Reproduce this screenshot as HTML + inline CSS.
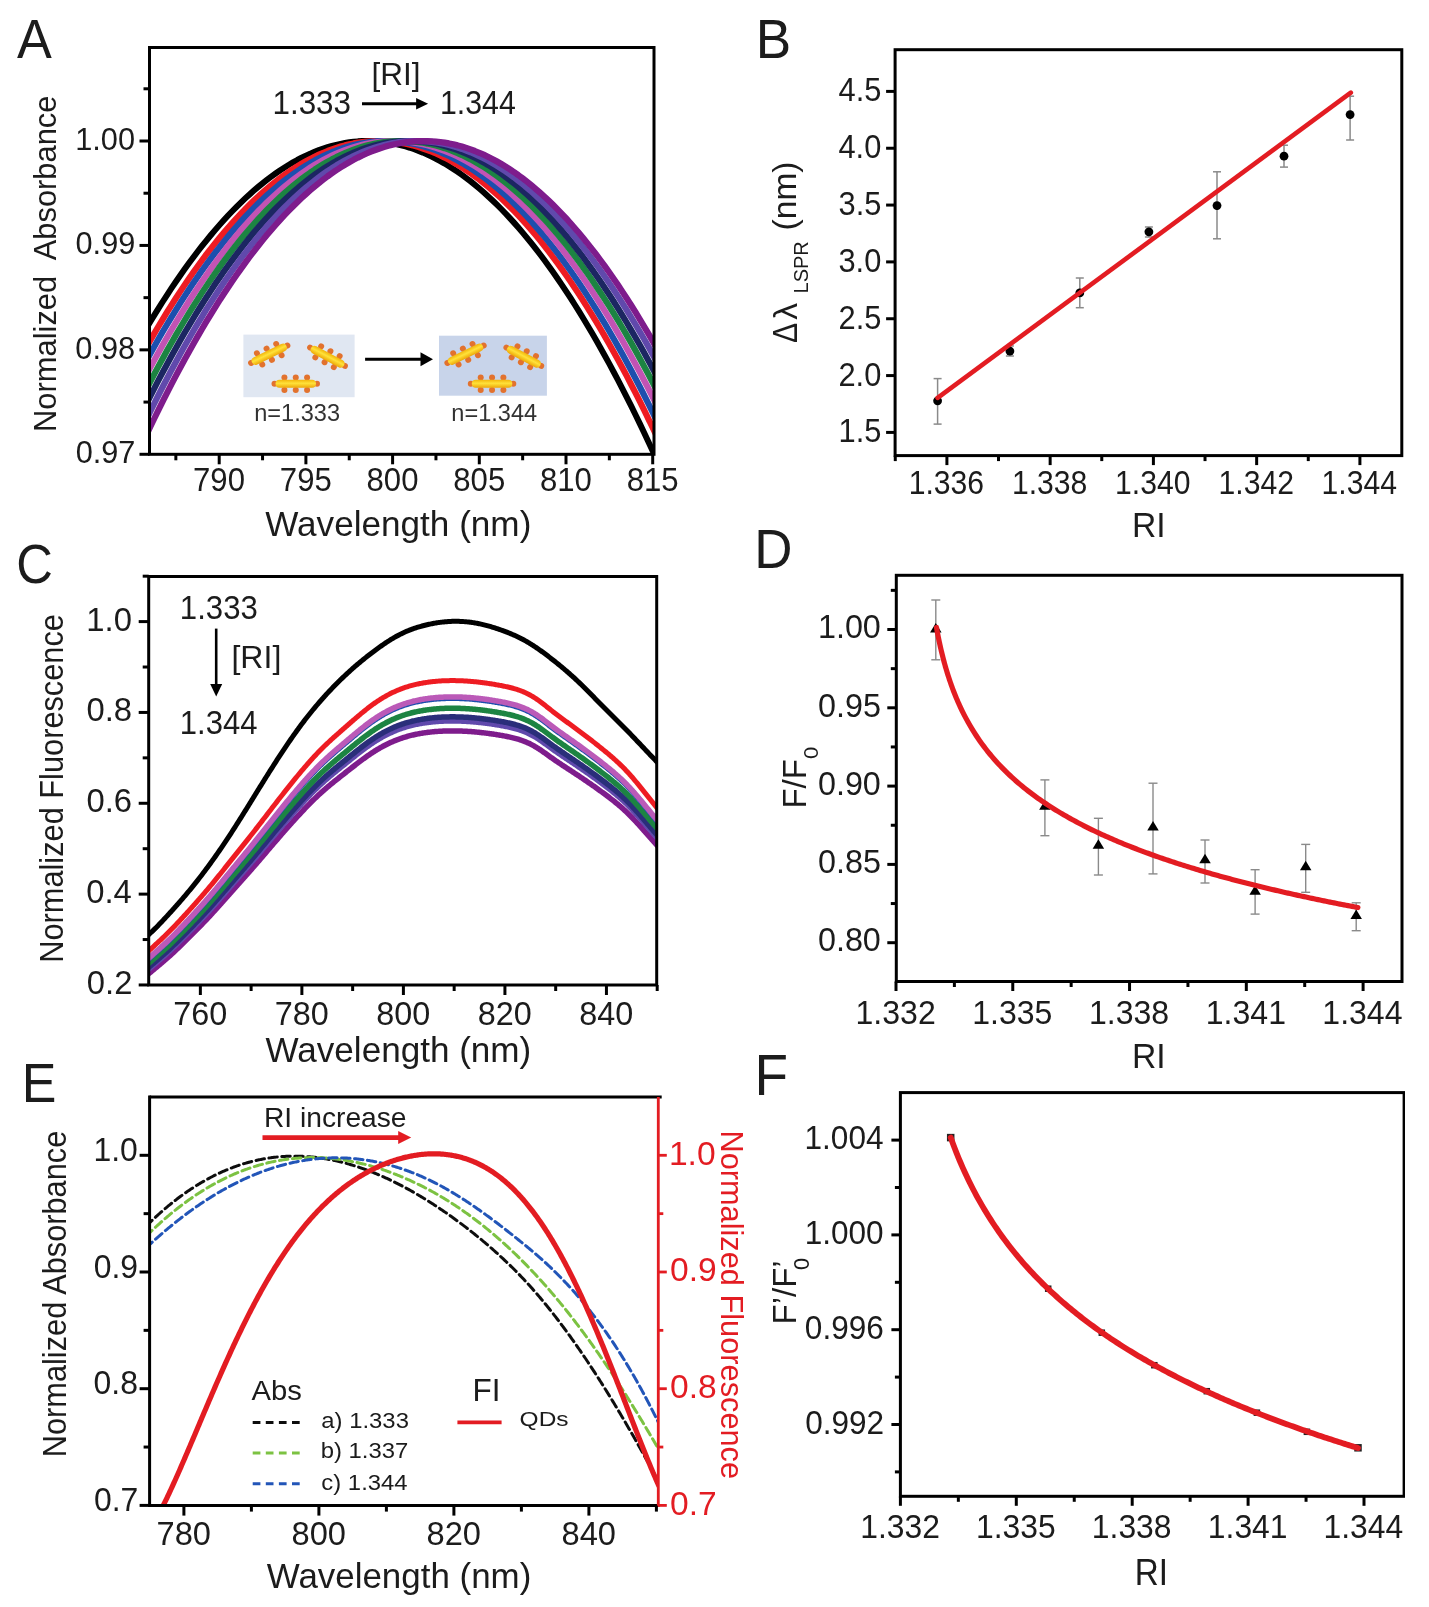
<!DOCTYPE html>
<html><head><meta charset="utf-8"><style>
html,body{margin:0;padding:0;background:#fff;}
svg{display:block;}
text{font-family:"Liberation Sans", sans-serif;}
</style></head><body>
<svg width="1429" height="1607" viewBox="0 0 1429 1607">
<defs><filter id="soft" x="0" y="0" width="100%" height="100%"><feGaussianBlur stdDeviation="0.55"/></filter></defs>
<rect width="1429" height="1607" fill="#fff"/>
<g filter="url(#soft)">
<clipPath id="clipA"><rect x="149.5" y="47.5" width="504.5" height="406.8"/></clipPath>
<g clip-path="url(#clipA)">
<path d="M141.17 337.23 L145.5 329.8 L149.84 322.5 L154.17 315.36 L158.51 308.35 L162.84 301.49 L167.18 294.77 L171.51 288.2 L175.85 281.77 L180.19 275.48 L184.52 269.34 L188.85 263.34 L193.19 257.49 L197.52 251.77 L201.86 246.21 L206.19 240.78 L210.53 235.5 L214.86 230.36 L219.2 225.37 L223.53 220.52 L227.87 215.81 L232.2 211.25 L236.54 206.83 L240.88 202.55 L245.21 198.42 L249.54 194.43 L253.88 190.58 L258.21 186.88 L262.55 183.32 L266.88 179.91 L271.22 176.64 L275.56 173.51 L279.89 170.53 L284.23 167.69 L288.56 164.99 L292.89 162.44 L297.23 160.03 L301.56 157.76 L305.9 155.64 L310.24 153.66 L314.57 151.83 L318.9 150.14 L323.24 148.59 L327.57 147.18 L331.91 145.92 L336.25 144.81 L340.58 143.83 L344.91 143 L349.25 142.32 L353.58 141.77 L357.92 141.37 L362.25 141.12 L366.59 141.01 L370.92 141.04 L375.26 141.21 L379.6 141.53 L383.93 141.99 L388.26 142.6 L392.6 143.35 L396.93 144.24 L401.27 145.28 L405.61 146.46 L409.94 147.78 L414.27 149.25 L418.61 150.86 L422.94 152.62 L427.28 154.51 L431.62 156.56 L435.95 158.74 L440.28 161.07 L444.62 163.54 L448.95 166.16 L453.29 168.92 L457.62 171.82 L461.96 174.87 L466.29 178.06 L470.63 181.39 L474.96 184.87 L479.3 188.49 L483.63 192.26 L487.97 196.17 L492.31 200.22 L496.64 204.42 L500.97 208.75 L505.31 213.24 L509.64 217.86 L513.98 222.63 L518.32 227.55 L522.65 232.61 L526.99 237.81 L531.32 243.15 L535.65 248.64 L539.99 254.27 L544.33 260.05 L548.66 265.96 L553 272.03 L557.33 278.23 L561.66 284.58 L566 291.08 L570.34 297.71 L574.67 304.49 L579 311.42 L583.34 318.48 L587.67 325.7 L592.01 333.05 L596.35 340.55 L600.68 348.19 L605.01 355.98 L609.35 363.91 L613.68 371.98 L618.02 380.19 L622.36 388.55 L626.69 397.06 L631.02 405.7 L635.36 414.5 L639.69 423.43 L644.03 432.51 L648.37 441.73 L652.7 451.09 L657.03 460.6 L661.37 470.25" fill="none" stroke="#000000" stroke-width="6.0" stroke-linejoin="round" stroke-linecap="round" />
<path d="M141.17 356.61 L145.5 348.81 L149.84 341.15 L154.17 333.64 L158.51 326.28 L162.84 319.06 L167.18 311.98 L171.51 305.04 L175.85 298.25 L180.19 291.6 L184.52 285.1 L188.85 278.74 L193.19 272.52 L197.52 266.44 L201.86 260.51 L206.19 254.73 L210.53 249.08 L214.86 243.58 L219.2 238.23 L223.53 233.02 L227.87 227.95 L232.2 223.02 L236.54 218.24 L240.88 213.6 L245.21 209.11 L249.54 204.76 L253.88 200.55 L258.21 196.49 L262.55 192.57 L266.88 188.79 L271.22 185.16 L275.56 181.67 L279.89 178.32 L284.23 175.12 L288.56 172.06 L292.89 169.15 L297.23 166.38 L301.56 163.75 L305.9 161.26 L310.24 158.92 L314.57 156.73 L318.9 154.67 L323.24 152.76 L327.57 151 L331.91 149.37 L336.25 147.9 L340.58 146.56 L344.91 145.37 L349.25 144.32 L353.58 143.42 L357.92 142.65 L362.25 142.04 L366.59 141.56 L370.92 141.23 L375.26 141.05 L379.6 141 L383.93 141.1 L388.26 141.35 L392.6 141.74 L396.93 142.27 L401.27 142.94 L405.61 143.76 L409.94 144.72 L414.27 145.83 L418.61 147.08 L422.94 148.47 L427.28 150.01 L431.62 151.69 L435.95 153.51 L440.28 155.48 L444.62 157.59 L448.95 159.84 L453.29 162.24 L457.62 164.78 L461.96 167.47 L466.29 170.3 L470.63 173.27 L474.96 176.38 L479.3 179.64 L483.63 183.05 L487.97 186.59 L492.31 190.28 L496.64 194.12 L500.97 198.09 L505.31 202.22 L509.64 206.48 L513.98 210.89 L518.32 215.44 L522.65 220.14 L526.99 224.98 L531.32 229.96 L535.65 235.08 L539.99 240.35 L544.33 245.77 L548.66 251.32 L553 257.02 L557.33 262.87 L561.66 268.86 L566 274.99 L570.34 281.26 L574.67 287.68 L579 294.24 L583.34 300.95 L587.67 307.8 L592.01 314.79 L596.35 321.93 L600.68 329.21 L605.01 336.63 L609.35 344.2 L613.68 351.91 L618.02 359.76 L622.36 367.76 L626.69 375.9 L631.02 384.19 L635.36 392.62 L639.69 401.19 L644.03 409.91 L648.37 418.77 L652.7 427.77 L657.03 436.92 L661.37 446.21" fill="none" stroke="#ee1b22" stroke-width="6.2" stroke-linejoin="round" stroke-linecap="round" />
<path d="M141.17 370.35 L145.5 362.31 L149.84 354.41 L154.17 346.65 L158.51 339.04 L162.84 331.57 L167.18 324.24 L171.51 317.06 L175.85 310.02 L180.19 303.13 L184.52 296.37 L188.85 289.77 L193.19 283.3 L197.52 276.98 L201.86 270.8 L206.19 264.77 L210.53 258.88 L214.86 253.13 L219.2 247.53 L223.53 242.07 L227.87 236.75 L232.2 231.58 L236.54 226.55 L240.88 221.67 L245.21 216.93 L249.54 212.33 L253.88 207.88 L258.21 203.56 L262.55 199.4 L266.88 195.37 L271.22 191.49 L275.56 187.76 L279.89 184.17 L284.23 180.72 L288.56 177.41 L292.89 174.25 L297.23 171.23 L301.56 168.36 L305.9 165.63 L310.24 163.04 L314.57 160.59 L318.9 158.29 L323.24 156.14 L327.57 154.12 L331.91 152.25 L336.25 150.53 L340.58 148.95 L344.91 147.51 L349.25 146.21 L353.58 145.06 L357.92 144.05 L362.25 143.19 L366.59 142.47 L370.92 141.89 L375.26 141.46 L379.6 141.17 L383.93 141.02 L388.26 141.02 L392.6 141.16 L396.93 141.44 L401.27 141.87 L405.61 142.44 L409.94 143.16 L414.27 144.01 L418.61 145.02 L422.94 146.16 L427.28 147.45 L431.62 148.89 L435.95 150.46 L440.28 152.18 L444.62 154.05 L448.95 156.05 L453.29 158.2 L457.62 160.5 L461.96 162.94 L466.29 165.52 L470.63 168.24 L474.96 171.11 L479.3 174.13 L483.63 177.28 L487.97 180.58 L492.31 184.02 L496.64 187.61 L500.97 191.34 L505.31 195.22 L509.64 199.23 L513.98 203.4 L518.32 207.7 L522.65 212.15 L526.99 216.74 L531.32 221.48 L535.65 226.36 L539.99 231.38 L544.33 236.54 L548.66 241.85 L553 247.31 L557.33 252.91 L561.66 258.65 L566 264.53 L570.34 270.56 L574.67 276.73 L579 283.05 L583.34 289.5 L587.67 296.11 L592.01 302.85 L596.35 309.74 L600.68 316.78 L605.01 323.95 L609.35 331.27 L613.68 338.74 L618.02 346.34 L622.36 354.09 L626.69 361.99 L631.02 370.03 L635.36 378.21 L639.69 386.53 L644.03 395 L648.37 403.62 L652.7 412.37 L657.03 421.27 L661.37 430.32" fill="none" stroke="#1f4fae" stroke-width="6.2" stroke-linejoin="round" stroke-linecap="round" />
<path d="M141.17 384.86 L145.5 376.56 L149.84 368.41 L154.17 360.4 L158.51 352.53 L162.84 344.81 L167.18 337.23 L171.51 329.8 L175.85 322.5 L180.19 315.36 L184.52 308.35 L188.85 301.49 L193.19 294.77 L197.52 288.2 L201.86 281.77 L206.19 275.48 L210.53 269.34 L214.86 263.34 L219.2 257.49 L223.53 251.77 L227.87 246.21 L232.2 240.78 L236.54 235.5 L240.88 230.36 L245.21 225.37 L249.54 220.52 L253.88 215.81 L258.21 211.25 L262.55 206.83 L266.88 202.55 L271.22 198.42 L275.56 194.43 L279.89 190.58 L284.23 186.88 L288.56 183.32 L292.89 179.91 L297.23 176.64 L301.56 173.51 L305.9 170.53 L310.24 167.69 L314.57 164.99 L318.9 162.44 L323.24 160.03 L327.57 157.76 L331.91 155.64 L336.25 153.66 L340.58 151.83 L344.91 150.14 L349.25 148.59 L353.58 147.18 L357.92 145.92 L362.25 144.81 L366.59 143.83 L370.92 143 L375.26 142.32 L379.6 141.77 L383.93 141.37 L388.26 141.12 L392.6 141.01 L396.93 141.04 L401.27 141.21 L405.61 141.53 L409.94 141.99 L414.27 142.6 L418.61 143.35 L422.94 144.24 L427.28 145.28 L431.62 146.46 L435.95 147.78 L440.28 149.25 L444.62 150.86 L448.95 152.62 L453.29 154.51 L457.62 156.56 L461.96 158.74 L466.29 161.07 L470.63 163.54 L474.96 166.16 L479.3 168.92 L483.63 171.82 L487.97 174.87 L492.31 178.06 L496.64 181.39 L500.97 184.87 L505.31 188.49 L509.64 192.26 L513.98 196.17 L518.32 200.22 L522.65 204.42 L526.99 208.75 L531.32 213.24 L535.65 217.86 L539.99 222.63 L544.33 227.55 L548.66 232.61 L553 237.81 L557.33 243.15 L561.66 248.64 L566 254.27 L570.34 260.05 L574.67 265.96 L579 272.03 L583.34 278.23 L587.67 284.58 L592.01 291.08 L596.35 297.71 L600.68 304.49 L605.01 311.42 L609.35 318.48 L613.68 325.7 L618.02 333.05 L622.36 340.55 L626.69 348.19 L631.02 355.98 L635.36 363.91 L639.69 371.98 L644.03 380.19 L648.37 388.55 L652.7 397.06 L657.03 405.7 L661.37 414.5" fill="none" stroke="#c253b4" stroke-width="6.2" stroke-linejoin="round" stroke-linecap="round" />
<path d="M141.17 399.46 L145.5 390.92 L149.84 382.52 L154.17 374.26 L158.51 366.15 L162.84 358.18 L167.18 350.36 L171.51 342.67 L175.85 335.14 L180.19 327.74 L184.52 320.49 L188.85 313.38 L193.19 306.42 L197.52 299.6 L201.86 292.92 L206.19 286.39 L210.53 280 L214.86 273.75 L219.2 267.65 L223.53 261.69 L227.87 255.87 L232.2 250.2 L236.54 244.67 L240.88 239.29 L245.21 234.05 L249.54 228.95 L253.88 224 L258.21 219.19 L262.55 214.52 L266.88 210 L271.22 205.62 L275.56 201.38 L279.89 197.29 L284.23 193.34 L288.56 189.53 L292.89 185.87 L297.23 182.35 L301.56 178.98 L305.9 175.75 L310.24 172.66 L314.57 169.72 L318.9 166.92 L323.24 164.26 L327.57 161.75 L331.91 159.38 L336.25 157.15 L340.58 155.07 L344.91 153.13 L349.25 151.34 L353.58 149.69 L357.92 148.18 L362.25 146.82 L366.59 145.59 L370.92 144.52 L375.26 143.58 L379.6 142.79 L383.93 142.15 L388.26 141.65 L392.6 141.29 L396.93 141.07 L401.27 141 L405.61 141.07 L409.94 141.29 L414.27 141.65 L418.61 142.15 L422.94 142.79 L427.28 143.58 L431.62 144.52 L435.95 145.59 L440.28 146.82 L444.62 148.18 L448.95 149.69 L453.29 151.34 L457.62 153.13 L461.96 155.07 L466.29 157.15 L470.63 159.38 L474.96 161.75 L479.3 164.26 L483.63 166.92 L487.97 169.72 L492.31 172.66 L496.64 175.75 L500.97 178.98 L505.31 182.35 L509.64 185.87 L513.98 189.53 L518.32 193.34 L522.65 197.29 L526.99 201.38 L531.32 205.62 L535.65 210 L539.99 214.52 L544.33 219.19 L548.66 224 L553 228.95 L557.33 234.05 L561.66 239.29 L566 244.67 L570.34 250.2 L574.67 255.87 L579 261.69 L583.34 267.65 L587.67 273.75 L592.01 280 L596.35 286.39 L600.68 292.92 L605.01 299.6 L609.35 306.42 L613.68 313.38 L618.02 320.49 L622.36 327.74 L626.69 335.14 L631.02 342.67 L635.36 350.36 L639.69 358.18 L644.03 366.15 L648.37 374.26 L652.7 382.52 L657.03 390.92 L661.37 399.46" fill="none" stroke="#1d8442" stroke-width="6.2" stroke-linejoin="round" stroke-linecap="round" />
<path d="M141.17 414.5 L145.5 405.7 L149.84 397.06 L154.17 388.55 L158.51 380.19 L162.84 371.98 L167.18 363.91 L171.51 355.98 L175.85 348.19 L180.19 340.55 L184.52 333.05 L188.85 325.7 L193.19 318.48 L197.52 311.42 L201.86 304.49 L206.19 297.71 L210.53 291.08 L214.86 284.58 L219.2 278.23 L223.53 272.03 L227.87 265.96 L232.2 260.05 L236.54 254.27 L240.88 248.64 L245.21 243.15 L249.54 237.81 L253.88 232.61 L258.21 227.55 L262.55 222.63 L266.88 217.86 L271.22 213.24 L275.56 208.75 L279.89 204.42 L284.23 200.22 L288.56 196.17 L292.89 192.26 L297.23 188.49 L301.56 184.87 L305.9 181.39 L310.24 178.06 L314.57 174.87 L318.9 171.82 L323.24 168.92 L327.57 166.16 L331.91 163.54 L336.25 161.07 L340.58 158.74 L344.91 156.56 L349.25 154.51 L353.58 152.62 L357.92 150.86 L362.25 149.25 L366.59 147.78 L370.92 146.46 L375.26 145.28 L379.6 144.24 L383.93 143.35 L388.26 142.6 L392.6 141.99 L396.93 141.53 L401.27 141.21 L405.61 141.04 L409.94 141.01 L414.27 141.12 L418.61 141.37 L422.94 141.77 L427.28 142.32 L431.62 143 L435.95 143.83 L440.28 144.81 L444.62 145.92 L448.95 147.18 L453.29 148.59 L457.62 150.14 L461.96 151.83 L466.29 153.66 L470.63 155.64 L474.96 157.76 L479.3 160.03 L483.63 162.44 L487.97 164.99 L492.31 167.69 L496.64 170.53 L500.97 173.51 L505.31 176.64 L509.64 179.91 L513.98 183.32 L518.32 186.88 L522.65 190.58 L526.99 194.43 L531.32 198.42 L535.65 202.55 L539.99 206.83 L544.33 211.25 L548.66 215.81 L553 220.52 L557.33 225.37 L561.66 230.36 L566 235.5 L570.34 240.78 L574.67 246.21 L579 251.77 L583.34 257.49 L587.67 263.34 L592.01 269.34 L596.35 275.48 L600.68 281.77 L605.01 288.2 L609.35 294.77 L613.68 301.49 L618.02 308.35 L622.36 315.36 L626.69 322.5 L631.02 329.8 L635.36 337.23 L639.69 344.81 L644.03 352.53 L648.37 360.4 L652.7 368.41 L657.03 376.56 L661.37 384.86" fill="none" stroke="#1b2862" stroke-width="6.2" stroke-linejoin="round" stroke-linecap="round" />
<path d="M141.17 430.32 L145.5 421.27 L149.84 412.37 L154.17 403.62 L158.51 395 L162.84 386.53 L167.18 378.21 L171.51 370.03 L175.85 361.99 L180.19 354.09 L184.52 346.34 L188.85 338.74 L193.19 331.27 L197.52 323.95 L201.86 316.78 L206.19 309.74 L210.53 302.85 L214.86 296.11 L219.2 289.5 L223.53 283.05 L227.87 276.73 L232.2 270.56 L236.54 264.53 L240.88 258.65 L245.21 252.91 L249.54 247.31 L253.88 241.85 L258.21 236.54 L262.55 231.38 L266.88 226.36 L271.22 221.48 L275.56 216.74 L279.89 212.15 L284.23 207.7 L288.56 203.4 L292.89 199.23 L297.23 195.22 L301.56 191.34 L305.9 187.61 L310.24 184.02 L314.57 180.58 L318.9 177.28 L323.24 174.13 L327.57 171.11 L331.91 168.24 L336.25 165.52 L340.58 162.94 L344.91 160.5 L349.25 158.2 L353.58 156.05 L357.92 154.05 L362.25 152.18 L366.59 150.46 L370.92 148.89 L375.26 147.45 L379.6 146.16 L383.93 145.02 L388.26 144.01 L392.6 143.16 L396.93 142.44 L401.27 141.87 L405.61 141.44 L409.94 141.16 L414.27 141.02 L418.61 141.02 L422.94 141.17 L427.28 141.46 L431.62 141.89 L435.95 142.47 L440.28 143.19 L444.62 144.05 L448.95 145.06 L453.29 146.21 L457.62 147.51 L461.96 148.95 L466.29 150.53 L470.63 152.25 L474.96 154.12 L479.3 156.14 L483.63 158.29 L487.97 160.59 L492.31 163.04 L496.64 165.63 L500.97 168.36 L505.31 171.23 L509.64 174.25 L513.98 177.41 L518.32 180.72 L522.65 184.17 L526.99 187.76 L531.32 191.49 L535.65 195.37 L539.99 199.4 L544.33 203.56 L548.66 207.88 L553 212.33 L557.33 216.93 L561.66 221.67 L566 226.55 L570.34 231.58 L574.67 236.75 L579 242.07 L583.34 247.53 L587.67 253.13 L592.01 258.88 L596.35 264.77 L600.68 270.8 L605.01 276.98 L609.35 283.3 L613.68 289.77 L618.02 296.37 L622.36 303.13 L626.69 310.02 L631.02 317.06 L635.36 324.24 L639.69 331.57 L644.03 339.04 L648.37 346.65 L652.7 354.41 L657.03 362.31 L661.37 370.35" fill="none" stroke="#6048ac" stroke-width="6.2" stroke-linejoin="round" stroke-linecap="round" />
<path d="M141.17 446.21 L145.5 436.92 L149.84 427.77 L154.17 418.77 L158.51 409.91 L162.84 401.19 L167.18 392.62 L171.51 384.19 L175.85 375.9 L180.19 367.76 L184.52 359.76 L188.85 351.91 L193.19 344.2 L197.52 336.63 L201.86 329.21 L206.19 321.93 L210.53 314.79 L214.86 307.8 L219.2 300.95 L223.53 294.24 L227.87 287.68 L232.2 281.26 L236.54 274.99 L240.88 268.86 L245.21 262.87 L249.54 257.02 L253.88 251.32 L258.21 245.77 L262.55 240.35 L266.88 235.08 L271.22 229.96 L275.56 224.98 L279.89 220.14 L284.23 215.44 L288.56 210.89 L292.89 206.48 L297.23 202.22 L301.56 198.09 L305.9 194.12 L310.24 190.28 L314.57 186.59 L318.9 183.05 L323.24 179.64 L327.57 176.38 L331.91 173.27 L336.25 170.3 L340.58 167.47 L344.91 164.78 L349.25 162.24 L353.58 159.84 L357.92 157.59 L362.25 155.48 L366.59 153.51 L370.92 151.69 L375.26 150.01 L379.6 148.47 L383.93 147.08 L388.26 145.83 L392.6 144.72 L396.93 143.76 L401.27 142.94 L405.61 142.27 L409.94 141.74 L414.27 141.35 L418.61 141.1 L422.94 141 L427.28 141.05 L431.62 141.23 L435.95 141.56 L440.28 142.04 L444.62 142.65 L448.95 143.42 L453.29 144.32 L457.62 145.37 L461.96 146.56 L466.29 147.9 L470.63 149.37 L474.96 151 L479.3 152.76 L483.63 154.67 L487.97 156.73 L492.31 158.92 L496.64 161.26 L500.97 163.75 L505.31 166.38 L509.64 169.15 L513.98 172.06 L518.32 175.12 L522.65 178.32 L526.99 181.67 L531.32 185.16 L535.65 188.79 L539.99 192.57 L544.33 196.49 L548.66 200.55 L553 204.76 L557.33 209.11 L561.66 213.6 L566 218.24 L570.34 223.02 L574.67 227.95 L579 233.02 L583.34 238.23 L587.67 243.58 L592.01 249.08 L596.35 254.73 L600.68 260.51 L605.01 266.44 L609.35 272.52 L613.68 278.74 L618.02 285.1 L622.36 291.6 L626.69 298.25 L631.02 305.04 L635.36 311.98 L639.69 319.06 L644.03 326.28 L648.37 333.64 L652.7 341.15 L657.03 348.81 L661.37 356.61" fill="none" stroke="#7e1a8c" stroke-width="6.2" stroke-linejoin="round" stroke-linecap="round" />
</g>
<rect x="149.5" y="47.5" width="504.5" height="406.8" fill="none" stroke="#000" stroke-width="3"/>
<line x1="219.2" y1="454.3" x2="219.2" y2="464.3" stroke="#000" stroke-width="3" />
<line x1="305.9" y1="454.3" x2="305.9" y2="464.3" stroke="#000" stroke-width="3" />
<line x1="392.6" y1="454.3" x2="392.6" y2="464.3" stroke="#000" stroke-width="3" />
<line x1="479.3" y1="454.3" x2="479.3" y2="464.3" stroke="#000" stroke-width="3" />
<line x1="566" y1="454.3" x2="566" y2="464.3" stroke="#000" stroke-width="3" />
<line x1="652.7" y1="454.3" x2="652.7" y2="464.3" stroke="#000" stroke-width="3" />
<line x1="175.85" y1="454.3" x2="175.85" y2="460.3" stroke="#000" stroke-width="3" />
<line x1="262.55" y1="454.3" x2="262.55" y2="460.3" stroke="#000" stroke-width="3" />
<line x1="349.25" y1="454.3" x2="349.25" y2="460.3" stroke="#000" stroke-width="3" />
<line x1="435.95" y1="454.3" x2="435.95" y2="460.3" stroke="#000" stroke-width="3" />
<line x1="522.65" y1="454.3" x2="522.65" y2="460.3" stroke="#000" stroke-width="3" />
<line x1="609.35" y1="454.3" x2="609.35" y2="460.3" stroke="#000" stroke-width="3" />
<line x1="139.5" y1="454.29" x2="149.5" y2="454.29" stroke="#000" stroke-width="3" />
<line x1="139.5" y1="349.86" x2="149.5" y2="349.86" stroke="#000" stroke-width="3" />
<line x1="139.5" y1="245.43" x2="149.5" y2="245.43" stroke="#000" stroke-width="3" />
<line x1="139.5" y1="141" x2="149.5" y2="141" stroke="#000" stroke-width="3" />
<line x1="143.5" y1="402.08" x2="149.5" y2="402.08" stroke="#000" stroke-width="3" />
<line x1="143.5" y1="297.65" x2="149.5" y2="297.65" stroke="#000" stroke-width="3" />
<line x1="143.5" y1="193.22" x2="149.5" y2="193.22" stroke="#000" stroke-width="3" />
<line x1="143.5" y1="88.79" x2="149.5" y2="88.79" stroke="#000" stroke-width="3" />
<text transform="translate(193.04 491.47) scale(0.9571 1)" font-size="32.54" fill="#1a1a1a" >790</text>
<text transform="translate(279.82 491.47) scale(0.9571 1)" font-size="32.54" fill="#1a1a1a" >795</text>
<text transform="translate(366.52 491.47) scale(0.9571 1)" font-size="32.54" fill="#1a1a1a" >800</text>
<text transform="translate(453.3 491.47) scale(0.9571 1)" font-size="32.54" fill="#1a1a1a" >805</text>
<text transform="translate(539.92 491.47) scale(0.9571 1)" font-size="32.54" fill="#1a1a1a" >810</text>
<text transform="translate(626.7 491.47) scale(0.9571 1)" font-size="32.54" fill="#1a1a1a" >815</text>
<text transform="translate(75.68 463.07) scale(0.9568 1)" font-size="32.11" fill="#1a1a1a" >0.97</text>
<text transform="translate(75.37 358.64) scale(0.9568 1)" font-size="32.11" fill="#1a1a1a" >0.98</text>
<text transform="translate(75.52 254.21) scale(0.9568 1)" font-size="32.11" fill="#1a1a1a" >0.99</text>
<text transform="translate(75.22 149.78) scale(0.9568 1)" font-size="32.11" fill="#1a1a1a" >1.00</text>
<text transform="translate(17.1 58.4) scale(0.9352 1)" font-size="55.80" fill="#1a1a1a" >A</text>
<text transform="translate(265.22 536.24) scale(0.9893 1)" font-size="35.51" fill="#1a1a1a" >Wavelength (nm)</text>
<text transform="translate(56.38 431.97) rotate(-90) scale(0.9703 1)" font-size="31.84" fill="#1a1a1a" >Normalized  Absorbance</text>
<text transform="translate(371.49 85.01) scale(0.9889 1)" font-size="31.87" fill="#1a1a1a" >[RI]</text>
<text transform="translate(272.44 113.77) scale(0.9529 1)" font-size="32.96" fill="#1a1a1a" >1.333</text>
<text transform="translate(440.03 113.77) scale(0.9185 1)" font-size="32.96" fill="#1a1a1a" >1.344</text>
<line x1="362" y1="103.8" x2="417.1" y2="103.8" stroke="#000" stroke-width="3" />
<path d="M428.1 103.8 L416.1 98.1 L416.1 109.5 Z" fill="#000"/>
<linearGradient id="rodg" x1="0" y1="0" x2="0" y2="1"><stop offset="0" stop-color="#f2b40c"/><stop offset="0.45" stop-color="#ffe23a"/><stop offset="1" stop-color="#eea808"/></linearGradient>
<rect x="243.4" y="334.6" width="111.20000000000002" height="62.599999999999966" fill="#e0e7f2"/>
<g transform="translate(269.25 354.25) rotate(-25.56)"><circle cx="-10.71" cy="-6.2" r="3" fill="#e2722e"/><circle cx="-10.71" cy="6.2" r="3" fill="#e2722e"/><circle cx="0" cy="-6.2" r="3" fill="#e2722e"/><circle cx="0" cy="6.2" r="3" fill="#e2722e"/><circle cx="10.71" cy="-6.2" r="3" fill="#e2722e"/><circle cx="10.71" cy="6.2" r="3" fill="#e2722e"/><circle cx="-20.12" cy="0" r="3" fill="#e2722e"/><circle cx="20.12" cy="0" r="3" fill="#e2722e"/><rect x="-19.12" y="-4" width="38.24" height="8" rx="4" fill="url(#rodg)"/></g>
<g transform="translate(327.5 356.75) rotate(27.94)"><circle cx="-10.46" cy="-6.2" r="3" fill="#e2722e"/><circle cx="-10.46" cy="6.2" r="3" fill="#e2722e"/><circle cx="0" cy="-6.2" r="3" fill="#e2722e"/><circle cx="0" cy="6.2" r="3" fill="#e2722e"/><circle cx="10.46" cy="-6.2" r="3" fill="#e2722e"/><circle cx="10.46" cy="6.2" r="3" fill="#e2722e"/><circle cx="-19.68" cy="0" r="3" fill="#e2722e"/><circle cx="19.68" cy="0" r="3" fill="#e2722e"/><rect x="-18.68" y="-4" width="37.35" height="8" rx="4" fill="url(#rodg)"/></g>
<g transform="translate(295.75 383.7) rotate(0.00)"><circle cx="-11.34" cy="-6.2" r="3" fill="#e2722e"/><circle cx="-11.34" cy="6.2" r="3" fill="#e2722e"/><circle cx="0" cy="-6.2" r="3" fill="#e2722e"/><circle cx="0" cy="6.2" r="3" fill="#e2722e"/><circle cx="11.34" cy="-6.2" r="3" fill="#e2722e"/><circle cx="11.34" cy="6.2" r="3" fill="#e2722e"/><circle cx="-21.25" cy="0" r="3" fill="#e2722e"/><circle cx="21.25" cy="0" r="3" fill="#e2722e"/><rect x="-20.25" y="-4" width="40.5" height="8" rx="4" fill="url(#rodg)"/></g>
<rect x="439" y="335.7" width="107.89999999999998" height="60.0" fill="#c8d4ea"/>
<g transform="translate(465.55 354.25) rotate(-25.56)"><circle cx="-10.71" cy="-6.2" r="3" fill="#e2722e"/><circle cx="-10.71" cy="6.2" r="3" fill="#e2722e"/><circle cx="0" cy="-6.2" r="3" fill="#e2722e"/><circle cx="0" cy="6.2" r="3" fill="#e2722e"/><circle cx="10.71" cy="-6.2" r="3" fill="#e2722e"/><circle cx="10.71" cy="6.2" r="3" fill="#e2722e"/><circle cx="-20.12" cy="0" r="3" fill="#e2722e"/><circle cx="20.12" cy="0" r="3" fill="#e2722e"/><rect x="-19.12" y="-4" width="38.24" height="8" rx="4" fill="url(#rodg)"/></g>
<g transform="translate(523.8 356.75) rotate(27.94)"><circle cx="-10.46" cy="-6.2" r="3" fill="#e2722e"/><circle cx="-10.46" cy="6.2" r="3" fill="#e2722e"/><circle cx="0" cy="-6.2" r="3" fill="#e2722e"/><circle cx="0" cy="6.2" r="3" fill="#e2722e"/><circle cx="10.46" cy="-6.2" r="3" fill="#e2722e"/><circle cx="10.46" cy="6.2" r="3" fill="#e2722e"/><circle cx="-19.68" cy="0" r="3" fill="#e2722e"/><circle cx="19.68" cy="0" r="3" fill="#e2722e"/><rect x="-18.68" y="-4" width="37.35" height="8" rx="4" fill="url(#rodg)"/></g>
<g transform="translate(492.05 383.7) rotate(0.00)"><circle cx="-11.34" cy="-6.2" r="3" fill="#e2722e"/><circle cx="-11.34" cy="6.2" r="3" fill="#e2722e"/><circle cx="0" cy="-6.2" r="3" fill="#e2722e"/><circle cx="0" cy="6.2" r="3" fill="#e2722e"/><circle cx="11.34" cy="-6.2" r="3" fill="#e2722e"/><circle cx="11.34" cy="6.2" r="3" fill="#e2722e"/><circle cx="-21.25" cy="0" r="3" fill="#e2722e"/><circle cx="21.25" cy="0" r="3" fill="#e2722e"/><rect x="-20.25" y="-4" width="40.5" height="8" rx="4" fill="url(#rodg)"/></g>
<line x1="365.1" y1="359.3" x2="421.5" y2="359.3" stroke="#000" stroke-width="3" />
<path d="M433 359.3 L420.5 352.3 L420.5 366.3 Z" fill="#000"/>
<text transform="translate(254.17 421.36) scale(0.9912 1)" font-size="23.80" fill="#333" >n=1.333</text>
<text transform="translate(451.37 421.36) scale(0.9896 1)" font-size="23.80" fill="#333" >n=1.344</text>
<line x1="937.6" y1="378.6" x2="937.6" y2="424.1" stroke="#8a8a8a" stroke-width="1.5" />
<line x1="933.6" y1="378.6" x2="941.6" y2="378.6" stroke="#8a8a8a" stroke-width="1.5" />
<line x1="933.6" y1="424.1" x2="941.6" y2="424.1" stroke="#8a8a8a" stroke-width="1.5" />
<line x1="1009.9" y1="346" x2="1009.9" y2="356" stroke="#8a8a8a" stroke-width="1.5" />
<line x1="1005.9" y1="346" x2="1013.9" y2="346" stroke="#8a8a8a" stroke-width="1.5" />
<line x1="1005.9" y1="356" x2="1013.9" y2="356" stroke="#8a8a8a" stroke-width="1.5" />
<line x1="1079.8" y1="278" x2="1079.8" y2="307.7" stroke="#8a8a8a" stroke-width="1.5" />
<line x1="1075.8" y1="278" x2="1083.8" y2="278" stroke="#8a8a8a" stroke-width="1.5" />
<line x1="1075.8" y1="307.7" x2="1083.8" y2="307.7" stroke="#8a8a8a" stroke-width="1.5" />
<line x1="1148.9" y1="227" x2="1148.9" y2="237" stroke="#8a8a8a" stroke-width="1.5" />
<line x1="1144.9" y1="227" x2="1152.9" y2="227" stroke="#8a8a8a" stroke-width="1.5" />
<line x1="1144.9" y1="237" x2="1152.9" y2="237" stroke="#8a8a8a" stroke-width="1.5" />
<line x1="1217" y1="171.8" x2="1217" y2="238.8" stroke="#8a8a8a" stroke-width="1.5" />
<line x1="1213" y1="171.8" x2="1221" y2="171.8" stroke="#8a8a8a" stroke-width="1.5" />
<line x1="1213" y1="238.8" x2="1221" y2="238.8" stroke="#8a8a8a" stroke-width="1.5" />
<line x1="1284" y1="145.2" x2="1284" y2="167.1" stroke="#8a8a8a" stroke-width="1.5" />
<line x1="1280" y1="145.2" x2="1288" y2="145.2" stroke="#8a8a8a" stroke-width="1.5" />
<line x1="1280" y1="167.1" x2="1288" y2="167.1" stroke="#8a8a8a" stroke-width="1.5" />
<line x1="1350.1" y1="96.2" x2="1350.1" y2="140" stroke="#8a8a8a" stroke-width="1.5" />
<line x1="1346.1" y1="96.2" x2="1354.1" y2="96.2" stroke="#8a8a8a" stroke-width="1.5" />
<line x1="1346.1" y1="140" x2="1354.1" y2="140" stroke="#8a8a8a" stroke-width="1.5" />
<circle cx="937.6" cy="400.8" r="4.4" fill="#000"/>
<circle cx="1009.9" cy="351.1" r="4.4" fill="#000"/>
<circle cx="1079.8" cy="292.9" r="4.4" fill="#000"/>
<circle cx="1148.9" cy="231.8" r="4.4" fill="#000"/>
<circle cx="1217" cy="205.6" r="4.4" fill="#000"/>
<circle cx="1284" cy="156.2" r="4.4" fill="#000"/>
<circle cx="1350.1" cy="114.6" r="4.4" fill="#000"/>
<line x1="937.6" y1="397.8" x2="1350.8" y2="92.7" stroke="#e31d24" stroke-width="4.6" stroke-linecap="round"/>
<rect x="895.1" y="49.7" width="506.7" height="405.9" fill="none" stroke="#000" stroke-width="3"/>
<line x1="946.9" y1="455.6" x2="946.9" y2="465.1" stroke="#000" stroke-width="3" />
<line x1="1050.15" y1="455.6" x2="1050.15" y2="465.1" stroke="#000" stroke-width="3" />
<line x1="1153.4" y1="455.6" x2="1153.4" y2="465.1" stroke="#000" stroke-width="3" />
<line x1="1256.65" y1="455.6" x2="1256.65" y2="465.1" stroke="#000" stroke-width="3" />
<line x1="1359.9" y1="455.6" x2="1359.9" y2="465.1" stroke="#000" stroke-width="3" />
<line x1="895.27" y1="455.6" x2="895.27" y2="461.1" stroke="#000" stroke-width="3" />
<line x1="998.52" y1="455.6" x2="998.52" y2="461.1" stroke="#000" stroke-width="3" />
<line x1="1101.77" y1="455.6" x2="1101.77" y2="461.1" stroke="#000" stroke-width="3" />
<line x1="1205.02" y1="455.6" x2="1205.02" y2="461.1" stroke="#000" stroke-width="3" />
<line x1="1308.27" y1="455.6" x2="1308.27" y2="461.1" stroke="#000" stroke-width="3" />
<line x1="886.1" y1="432.41" x2="895.1" y2="432.41" stroke="#000" stroke-width="3" />
<line x1="886.1" y1="375.58" x2="895.1" y2="375.58" stroke="#000" stroke-width="3" />
<line x1="886.1" y1="318.74" x2="895.1" y2="318.74" stroke="#000" stroke-width="3" />
<line x1="886.1" y1="261.9" x2="895.1" y2="261.9" stroke="#000" stroke-width="3" />
<line x1="886.1" y1="205.07" x2="895.1" y2="205.07" stroke="#000" stroke-width="3" />
<line x1="886.1" y1="148.24" x2="895.1" y2="148.24" stroke="#000" stroke-width="3" />
<line x1="886.1" y1="91.4" x2="895.1" y2="91.4" stroke="#000" stroke-width="3" />
<text transform="translate(908.69 493.57) scale(0.9108 1)" font-size="33.10" fill="#1a1a1a" >1.336</text>
<text transform="translate(1011.94 493.57) scale(0.9108 1)" font-size="33.10" fill="#1a1a1a" >1.338</text>
<text transform="translate(1115.11 493.57) scale(0.9108 1)" font-size="33.10" fill="#1a1a1a" >1.340</text>
<text transform="translate(1218.59 493.57) scale(0.9108 1)" font-size="33.10" fill="#1a1a1a" >1.342</text>
<text transform="translate(1321.54 493.57) scale(0.9108 1)" font-size="33.10" fill="#1a1a1a" >1.344</text>
<text transform="translate(838.58 442.23) scale(0.9261 1)" font-size="33.29" fill="#1a1a1a" >1.5</text>
<text transform="translate(838.43 385.56) scale(0.9261 1)" font-size="33.29" fill="#1a1a1a" >2.0</text>
<text transform="translate(838.58 328.72) scale(0.9261 1)" font-size="33.29" fill="#1a1a1a" >2.5</text>
<text transform="translate(838.43 271.89) scale(0.9261 1)" font-size="33.29" fill="#1a1a1a" >3.0</text>
<text transform="translate(838.58 215.05) scale(0.9261 1)" font-size="33.29" fill="#1a1a1a" >3.5</text>
<text transform="translate(838.43 158.22) scale(0.9261 1)" font-size="33.29" fill="#1a1a1a" >4.0</text>
<text transform="translate(838.58 101.22) scale(0.9261 1)" font-size="33.29" fill="#1a1a1a" >4.5</text>
<text transform="translate(755.65 58.1) scale(0.9690 1)" font-size="54.78" fill="#1a1a1a" >B</text>
<text transform="translate(1131.9 537.3) scale(0.9529 1)" font-size="35.36" fill="#1a1a1a" >RI</text>
<text transform="translate(796.8 343) rotate(-90) scale(0.8347 1)" font-size="35.94" fill="#1a1a1a" >Δ</text>
<text transform="translate(796.8 319.69) rotate(-90) scale(1.0069 1)" font-size="33.38" fill="#1a1a1a" >λ</text>
<text transform="translate(808.3 293.4) rotate(-90) scale(0.9930 1)" font-size="20.14" fill="#1a1a1a" >LSPR</text>
<text transform="translate(795.8 230.41) rotate(-90) scale(1.0210 1)" font-size="32.83" fill="#1a1a1a" >(nm)</text>
<clipPath id="clipC"><rect x="148.7" y="576.5" width="508.00000000000006" height="408.5"/></clipPath>
<g clip-path="url(#clipC)">
<path d="M146 975.97 L147 975.12 L148 974.27 L149 973.43 L150 972.59 L151 971.76 L152 970.93 L153 970.1 L154 969.27 L155 968.44 L156 967.61 L157 966.78 L158 965.95 L159 965.11 L160 964.28 L161 963.44 L162 962.59 L163 961.74 L164 960.89 L165 960.03 L166 959.16 L167 958.28 L168 957.4 L169 956.5 L170 955.6 L171 954.69 L172 953.78 L173 952.86 L174 951.93 L175 950.99 L176 950.05 L177 949.11 L178 948.16 L179 947.2 L180 946.24 L181 945.27 L182 944.3 L183 943.32 L184 942.34 L185 941.36 L186 940.38 L187 939.39 L188 938.4 L189 937.4 L190 936.41 L191 935.41 L192 934.41 L193 933.41 L194 932.4 L195 931.39 L196 930.38 L197 929.36 L198 928.34 L199 927.32 L200 926.29 L201 925.26 L202 924.22 L203 923.18 L204 922.14 L205 921.09 L206 920.03 L207 918.98 L208 917.91 L209 916.84 L210 915.77 L211 914.68 L212 913.6 L213 912.51 L214 911.41 L215 910.31 L216 909.2 L217 908.09 L218 906.98 L219 905.87 L220 904.75 L221 903.63 L222 902.5 L223 901.38 L224 900.25 L225 899.12 L226 897.99 L227 896.86 L228 895.73 L229 894.6 L230 893.47 L231 892.35 L232 891.22 L233 890.09 L234 888.97 L235 887.84 L236 886.72 L237 885.6 L238 884.48 L239 883.35 L240 882.23 L241 881.11 L242 879.99 L243 878.86 L244 877.74 L245 876.61 L246 875.49 L247 874.36 L248 873.22 L249 872.09 L250 870.96 L251 869.82 L252 868.68 L253 867.53 L254 866.39 L255 865.24 L256 864.08 L257 862.92 L258 861.77 L259 860.6 L260 859.44 L261 858.27 L262 857.11 L263 855.94 L264 854.77 L265 853.6 L266 852.43 L267 851.25 L268 850.08 L269 848.91 L270 847.74 L271 846.57 L272 845.4 L273 844.23 L274 843.07 L275 841.9 L276 840.74 L277 839.58 L278 838.42 L279 837.26 L280 836.11 L281 834.96 L282 833.81 L283 832.67 L284 831.53 L285 830.39 L286 829.25 L287 828.12 L288 826.99 L289 825.87 L290 824.75 L291 823.63 L292 822.51 L293 821.4 L294 820.3 L295 819.2 L296 818.1 L297 817.01 L298 815.92 L299 814.84 L300 813.76 L301 812.68 L302 811.62 L303 810.56 L304 809.5 L305 808.45 L306 807.41 L307 806.37 L308 805.35 L309 804.32 L310 803.31 L311 802.31 L312 801.31 L313 800.32 L314 799.34 L315 798.37 L316 797.41 L317 796.46 L318 795.52 L319 794.59 L320 793.67 L321 792.76 L322 791.87 L323 790.98 L324 790.1 L325 789.23 L326 788.37 L327 787.51 L328 786.67 L329 785.83 L330 785 L331 784.17 L332 783.35 L333 782.54 L334 781.73 L335 780.92 L336 780.12 L337 779.33 L338 778.53 L339 777.74 L340 776.95 L341 776.16 L342 775.38 L343 774.59 L344 773.8 L345 773.02 L346 772.23 L347 771.45 L348 770.66 L349 769.88 L350 769.09 L351 768.31 L352 767.53 L353 766.75 L354 765.97 L355 765.2 L356 764.43 L357 763.66 L358 762.9 L359 762.14 L360 761.39 L361 760.64 L362 759.9 L363 759.16 L364 758.43 L365 757.71 L366 756.99 L367 756.29 L368 755.59 L369 754.89 L370 754.21 L371 753.54 L372 752.87 L373 752.22 L374 751.58 L375 750.94 L376 750.32 L377 749.71 L378 749.11 L379 748.52 L380 747.95 L381 747.38 L382 746.83 L383 746.29 L384 745.75 L385 745.23 L386 744.72 L387 744.22 L388 743.74 L389 743.26 L390 742.79 L391 742.34 L392 741.89 L393 741.46 L394 741.04 L395 740.63 L396 740.22 L397 739.83 L398 739.45 L399 739.08 L400 738.73 L401 738.38 L402 738.04 L403 737.71 L404 737.39 L405 737.09 L406 736.79 L407 736.5 L408 736.22 L409 735.95 L410 735.69 L411 735.44 L412 735.2 L413 734.96 L414 734.74 L415 734.52 L416 734.31 L417 734.11 L418 733.91 L419 733.73 L420 733.55 L421 733.37 L422 733.21 L423 733.05 L424 732.9 L425 732.75 L426 732.61 L427 732.48 L428 732.35 L429 732.23 L430 732.11 L431 732 L432 731.89 L433 731.79 L434 731.7 L435 731.61 L436 731.53 L437 731.45 L438 731.38 L439 731.32 L440 731.25 L441 731.2 L442 731.15 L443 731.1 L444 731.06 L445 731.02 L446 730.99 L447 730.96 L448 730.94 L449 730.93 L450 730.91 L451 730.9 L452 730.9 L453 730.9 L454 730.9 L455 730.91 L456 730.93 L457 730.94 L458 730.97 L459 730.99 L460 731.02 L461 731.06 L462 731.09 L463 731.14 L464 731.18 L465 731.23 L466 731.29 L467 731.34 L468 731.41 L469 731.47 L470 731.54 L471 731.61 L472 731.69 L473 731.77 L474 731.85 L475 731.94 L476 732.03 L477 732.13 L478 732.23 L479 732.33 L480 732.43 L481 732.54 L482 732.65 L483 732.77 L484 732.88 L485 733.01 L486 733.13 L487 733.26 L488 733.39 L489 733.53 L490 733.66 L491 733.8 L492 733.95 L493 734.09 L494 734.24 L495 734.4 L496 734.55 L497 734.71 L498 734.88 L499 735.04 L500 735.21 L501 735.38 L502 735.55 L503 735.73 L504 735.91 L505 736.09 L506 736.28 L507 736.48 L508 736.68 L509 736.89 L510 737.1 L511 737.33 L512 737.56 L513 737.8 L514 738.05 L515 738.31 L516 738.58 L517 738.87 L518 739.16 L519 739.47 L520 739.79 L521 740.13 L522 740.48 L523 740.84 L524 741.22 L525 741.62 L526 742.03 L527 742.46 L528 742.91 L529 743.37 L530 743.85 L531 744.35 L532 744.86 L533 745.4 L534 745.95 L535 746.53 L536 747.12 L537 747.74 L538 748.36 L539 749.01 L540 749.67 L541 750.34 L542 751.02 L543 751.72 L544 752.42 L545 753.12 L546 753.83 L547 754.55 L548 755.26 L549 755.98 L550 756.69 L551 757.4 L552 758.11 L553 758.81 L554 759.51 L555 760.2 L556 760.89 L557 761.57 L558 762.24 L559 762.92 L560 763.59 L561 764.25 L562 764.92 L563 765.58 L564 766.24 L565 766.89 L566 767.55 L567 768.2 L568 768.85 L569 769.51 L570 770.16 L571 770.81 L572 771.46 L573 772.12 L574 772.77 L575 773.43 L576 774.09 L577 774.75 L578 775.41 L579 776.08 L580 776.75 L581 777.42 L582 778.09 L583 778.77 L584 779.44 L585 780.13 L586 780.81 L587 781.5 L588 782.18 L589 782.88 L590 783.57 L591 784.27 L592 784.97 L593 785.67 L594 786.37 L595 787.08 L596 787.79 L597 788.5 L598 789.22 L599 789.94 L600 790.66 L601 791.38 L602 792.11 L603 792.84 L604 793.57 L605 794.3 L606 795.04 L607 795.79 L608 796.54 L609 797.29 L610 798.06 L611 798.82 L612 799.6 L613 800.39 L614 801.18 L615 801.98 L616 802.79 L617 803.61 L618 804.44 L619 805.29 L620 806.14 L621 807.01 L622 807.89 L623 808.78 L624 809.69 L625 810.61 L626 811.55 L627 812.5 L628 813.47 L629 814.45 L630 815.45 L631 816.46 L632 817.49 L633 818.53 L634 819.58 L635 820.64 L636 821.71 L637 822.8 L638 823.89 L639 824.98 L640 826.09 L641 827.2 L642 828.32 L643 829.44 L644 830.57 L645 831.7 L646 832.83 L647 833.96 L648 835.09 L649 836.23 L650 837.36 L651 838.49 L652 839.62 L653 840.74 L654 841.86 L655 842.98 L656 844.09 L657 845.19 L658 846.28 L659 847.37 L660 848.45" fill="none" stroke="#7e1a8c" stroke-width="5.5" stroke-linejoin="round" stroke-linecap="round" />
<path d="M146 971.51 L147 970.64 L148 969.78 L149 968.92 L150 968.06 L151 967.21 L152 966.36 L153 965.51 L154 964.66 L155 963.82 L156 962.97 L157 962.12 L158 961.27 L159 960.42 L160 959.56 L161 958.7 L162 957.84 L163 956.97 L164 956.09 L165 955.21 L166 954.33 L167 953.43 L168 952.52 L169 951.61 L170 950.69 L171 949.76 L172 948.83 L173 947.88 L174 946.93 L175 945.98 L176 945.02 L177 944.05 L178 943.08 L179 942.1 L180 941.11 L181 940.13 L182 939.13 L183 938.14 L184 937.14 L185 936.13 L186 935.12 L187 934.11 L188 933.1 L189 932.08 L190 931.07 L191 930.04 L192 929.02 L193 928 L194 926.97 L195 925.93 L196 924.9 L197 923.86 L198 922.82 L199 921.77 L200 920.72 L201 919.66 L202 918.61 L203 917.54 L204 916.47 L205 915.4 L206 914.32 L207 913.24 L208 912.15 L209 911.06 L210 909.96 L211 908.85 L212 907.74 L213 906.62 L214 905.5 L215 904.38 L216 903.25 L217 902.11 L218 900.98 L219 899.83 L220 898.69 L221 897.54 L222 896.4 L223 895.24 L224 894.09 L225 892.94 L226 891.78 L227 890.63 L228 889.47 L229 888.32 L230 887.16 L231 886.01 L232 884.86 L233 883.71 L234 882.56 L235 881.41 L236 880.26 L237 879.11 L238 877.96 L239 876.82 L240 875.67 L241 874.52 L242 873.37 L243 872.22 L244 871.07 L245 869.92 L246 868.77 L247 867.62 L248 866.46 L249 865.3 L250 864.14 L251 862.98 L252 861.81 L253 860.64 L254 859.47 L255 858.29 L256 857.11 L257 855.93 L258 854.74 L259 853.55 L260 852.36 L261 851.17 L262 849.98 L263 848.78 L264 847.59 L265 846.39 L266 845.19 L267 843.99 L268 842.8 L269 841.6 L270 840.4 L271 839.2 L272 838.01 L273 836.81 L274 835.62 L275 834.43 L276 833.24 L277 832.05 L278 830.87 L279 829.69 L280 828.51 L281 827.33 L282 826.16 L283 824.99 L284 823.82 L285 822.66 L286 821.5 L287 820.34 L288 819.19 L289 818.04 L290 816.89 L291 815.75 L292 814.61 L293 813.47 L294 812.34 L295 811.22 L296 810.09 L297 808.98 L298 807.86 L299 806.76 L300 805.65 L301 804.56 L302 803.46 L303 802.38 L304 801.3 L305 800.23 L306 799.16 L307 798.1 L308 797.05 L309 796.01 L310 794.97 L311 793.94 L312 792.93 L313 791.92 L314 790.91 L315 789.92 L316 788.94 L317 787.97 L318 787.01 L319 786.06 L320 785.12 L321 784.19 L322 783.27 L323 782.36 L324 781.46 L325 780.57 L326 779.69 L327 778.82 L328 777.95 L329 777.1 L330 776.25 L331 775.4 L332 774.56 L333 773.73 L334 772.9 L335 772.08 L336 771.26 L337 770.45 L338 769.63 L339 768.82 L340 768.02 L341 767.21 L342 766.41 L343 765.6 L344 764.8 L345 764 L346 763.19 L347 762.39 L348 761.59 L349 760.78 L350 759.98 L351 759.18 L352 758.38 L353 757.58 L354 756.79 L355 756 L356 755.21 L357 754.43 L358 753.65 L359 752.87 L360 752.1 L361 751.34 L362 750.58 L363 749.83 L364 749.08 L365 748.34 L366 747.61 L367 746.89 L368 746.17 L369 745.46 L370 744.77 L371 744.08 L372 743.4 L373 742.73 L374 742.07 L375 741.42 L376 740.79 L377 740.16 L378 739.55 L379 738.95 L380 738.36 L381 737.78 L382 737.22 L383 736.66 L384 736.12 L385 735.58 L386 735.06 L387 734.55 L388 734.05 L389 733.57 L390 733.09 L391 732.63 L392 732.17 L393 731.73 L394 731.3 L395 730.87 L396 730.46 L397 730.06 L398 729.68 L399 729.3 L400 728.93 L401 728.58 L402 728.23 L403 727.9 L404 727.57 L405 727.26 L406 726.95 L407 726.66 L408 726.37 L409 726.1 L410 725.83 L411 725.57 L412 725.32 L413 725.08 L414 724.85 L415 724.63 L416 724.42 L417 724.21 L418 724.01 L419 723.82 L420 723.63 L421 723.46 L422 723.29 L423 723.13 L424 722.97 L425 722.82 L426 722.68 L427 722.54 L428 722.41 L429 722.29 L430 722.17 L431 722.05 L432 721.95 L433 721.85 L434 721.75 L435 721.66 L436 721.58 L437 721.5 L438 721.42 L439 721.36 L440 721.29 L441 721.23 L442 721.18 L443 721.14 L444 721.09 L445 721.06 L446 721.02 L447 721 L448 720.97 L449 720.96 L450 720.94 L451 720.93 L452 720.93 L453 720.93 L454 720.94 L455 720.94 L456 720.96 L457 720.98 L458 721 L459 721.02 L460 721.05 L461 721.09 L462 721.13 L463 721.17 L464 721.22 L465 721.27 L466 721.33 L467 721.38 L468 721.45 L469 721.51 L470 721.59 L471 721.66 L472 721.74 L473 721.82 L474 721.91 L475 722 L476 722.09 L477 722.18 L478 722.29 L479 722.39 L480 722.5 L481 722.61 L482 722.72 L483 722.84 L484 722.96 L485 723.08 L486 723.21 L487 723.34 L488 723.48 L489 723.61 L490 723.76 L491 723.9 L492 724.05 L493 724.2 L494 724.35 L495 724.51 L496 724.67 L497 724.83 L498 724.99 L499 725.16 L500 725.33 L501 725.51 L502 725.69 L503 725.87 L504 726.05 L505 726.24 L506 726.44 L507 726.63 L508 726.84 L509 727.05 L510 727.27 L511 727.5 L512 727.74 L513 727.98 L514 728.24 L515 728.51 L516 728.79 L517 729.08 L518 729.38 L519 729.69 L520 730.02 L521 730.37 L522 730.72 L523 731.1 L524 731.49 L525 731.89 L526 732.31 L527 732.75 L528 733.21 L529 733.68 L530 734.17 L531 734.68 L532 735.21 L533 735.76 L534 736.32 L535 736.91 L536 737.52 L537 738.14 L538 738.79 L539 739.45 L540 740.12 L541 740.81 L542 741.51 L543 742.21 L544 742.93 L545 743.65 L546 744.38 L547 745.11 L548 745.84 L549 746.57 L550 747.3 L551 748.03 L552 748.75 L553 749.47 L554 750.18 L555 750.89 L556 751.59 L557 752.29 L558 752.98 L559 753.67 L560 754.35 L561 755.03 L562 755.71 L563 756.39 L564 757.06 L565 757.73 L566 758.4 L567 759.07 L568 759.74 L569 760.41 L570 761.07 L571 761.74 L572 762.41 L573 763.08 L574 763.75 L575 764.42 L576 765.09 L577 765.77 L578 766.44 L579 767.12 L580 767.81 L581 768.49 L582 769.18 L583 769.87 L584 770.57 L585 771.26 L586 771.96 L587 772.66 L588 773.37 L589 774.08 L590 774.79 L591 775.5 L592 776.21 L593 776.93 L594 777.65 L595 778.38 L596 779.1 L597 779.83 L598 780.56 L599 781.3 L600 782.03 L601 782.77 L602 783.52 L603 784.26 L604 785.01 L605 785.76 L606 786.52 L607 787.28 L608 788.05 L609 788.82 L610 789.6 L611 790.38 L612 791.18 L613 791.98 L614 792.79 L615 793.61 L616 794.44 L617 795.28 L618 796.13 L619 796.99 L620 797.87 L621 798.75 L622 799.65 L623 800.56 L624 801.49 L625 802.43 L626 803.39 L627 804.37 L628 805.35 L629 806.36 L630 807.38 L631 808.42 L632 809.47 L633 810.53 L634 811.6 L635 812.69 L636 813.79 L637 814.89 L638 816.01 L639 817.13 L640 818.26 L641 819.4 L642 820.54 L643 821.69 L644 822.84 L645 823.99 L646 825.15 L647 826.31 L648 827.47 L649 828.63 L650 829.78 L651 830.94 L652 832.09 L653 833.24 L654 834.39 L655 835.53 L656 836.66 L657 837.79 L658 838.91 L659 840.02 L660 841.13" fill="none" stroke="#6048ac" stroke-width="5.5" stroke-linejoin="round" stroke-linecap="round" />
<path d="M146 969.69 L147 968.81 L148 967.94 L149 967.07 L150 966.21 L151 965.35 L152 964.49 L153 963.63 L154 962.78 L155 961.92 L156 961.07 L157 960.21 L158 959.36 L159 958.5 L160 957.63 L161 956.77 L162 955.89 L163 955.02 L164 954.13 L165 953.25 L166 952.35 L167 951.44 L168 950.53 L169 949.61 L170 948.68 L171 947.74 L172 946.8 L173 945.85 L174 944.89 L175 943.93 L176 942.96 L177 941.98 L178 941 L179 940.01 L180 939.02 L181 938.02 L182 937.02 L183 936.01 L184 935 L185 933.99 L186 932.97 L187 931.95 L188 930.93 L189 929.91 L190 928.88 L191 927.85 L192 926.82 L193 925.78 L194 924.74 L195 923.7 L196 922.66 L197 921.61 L198 920.56 L199 919.5 L200 918.44 L201 917.38 L202 916.31 L203 915.23 L204 914.16 L205 913.07 L206 911.99 L207 910.89 L208 909.79 L209 908.69 L210 907.58 L211 906.47 L212 905.34 L213 904.22 L214 903.09 L215 901.95 L216 900.81 L217 899.67 L218 898.52 L219 897.37 L220 896.21 L221 895.06 L222 893.9 L223 892.74 L224 891.57 L225 890.41 L226 889.24 L227 888.08 L228 886.91 L229 885.75 L230 884.58 L231 883.42 L232 882.26 L233 881.09 L234 879.93 L235 878.77 L236 877.62 L237 876.46 L238 875.3 L239 874.14 L240 872.98 L241 871.83 L242 870.67 L243 869.51 L244 868.35 L245 867.19 L246 866.02 L247 864.86 L248 863.69 L249 862.52 L250 861.35 L251 860.18 L252 859 L253 857.82 L254 856.64 L255 855.45 L256 854.26 L257 853.06 L258 851.87 L259 850.67 L260 849.47 L261 848.27 L262 847.06 L263 845.86 L264 844.65 L265 843.44 L266 842.23 L267 841.02 L268 839.81 L269 838.61 L270 837.4 L271 836.19 L272 834.98 L273 833.78 L274 832.58 L275 831.37 L276 830.17 L277 828.98 L278 827.78 L279 826.59 L280 825.4 L281 824.21 L282 823.03 L283 821.85 L284 820.67 L285 819.5 L286 818.32 L287 817.16 L288 815.99 L289 814.83 L290 813.67 L291 812.52 L292 811.37 L293 810.23 L294 809.09 L295 807.95 L296 806.82 L297 805.69 L298 804.57 L299 803.45 L300 802.34 L301 801.23 L302 800.13 L303 799.03 L304 797.94 L305 796.86 L306 795.79 L307 794.72 L308 793.66 L309 792.6 L310 791.56 L311 790.52 L312 789.5 L313 788.48 L314 787.47 L315 786.47 L316 785.48 L317 784.49 L318 783.52 L319 782.56 L320 781.62 L321 780.68 L322 779.75 L323 778.83 L324 777.93 L325 777.03 L326 776.14 L327 775.26 L328 774.39 L329 773.52 L330 772.66 L331 771.81 L332 770.97 L333 770.13 L334 769.29 L335 768.46 L336 767.64 L337 766.81 L338 765.99 L339 765.18 L340 764.36 L341 763.55 L342 762.74 L343 761.93 L344 761.12 L345 760.31 L346 759.5 L347 758.68 L348 757.87 L349 757.06 L350 756.25 L351 755.45 L352 754.64 L353 753.84 L354 753.04 L355 752.24 L356 751.44 L357 750.65 L358 749.86 L359 749.08 L360 748.31 L361 747.53 L362 746.77 L363 746.01 L364 745.26 L365 744.51 L366 743.77 L367 743.04 L368 742.32 L369 741.61 L370 740.9 L371 740.21 L372 739.52 L373 738.85 L374 738.18 L375 737.53 L376 736.89 L377 736.26 L378 735.64 L379 735.03 L380 734.44 L381 733.86 L382 733.28 L383 732.72 L384 732.18 L385 731.64 L386 731.11 L387 730.6 L388 730.09 L389 729.6 L390 729.12 L391 728.65 L392 728.19 L393 727.75 L394 727.31 L395 726.89 L396 726.47 L397 726.07 L398 725.68 L399 725.3 L400 724.93 L401 724.57 L402 724.22 L403 723.88 L404 723.55 L405 723.23 L406 722.93 L407 722.63 L408 722.34 L409 722.06 L410 721.8 L411 721.54 L412 721.29 L413 721.04 L414 720.81 L415 720.58 L416 720.37 L417 720.16 L418 719.96 L419 719.77 L420 719.58 L421 719.4 L422 719.23 L423 719.07 L424 718.91 L425 718.76 L426 718.61 L427 718.48 L428 718.34 L429 718.22 L430 718.1 L431 717.98 L432 717.88 L433 717.77 L434 717.68 L435 717.59 L436 717.5 L437 717.42 L438 717.35 L439 717.28 L440 717.22 L441 717.16 L442 717.11 L443 717.06 L444 717.02 L445 716.98 L446 716.95 L447 716.92 L448 716.9 L449 716.88 L450 716.86 L451 716.86 L452 716.85 L453 716.85 L454 716.86 L455 716.87 L456 716.88 L457 716.9 L458 716.92 L459 716.95 L460 716.98 L461 717.01 L462 717.05 L463 717.1 L464 717.14 L465 717.19 L466 717.25 L467 717.31 L468 717.37 L469 717.44 L470 717.51 L471 717.59 L472 717.67 L473 717.75 L474 717.84 L475 717.93 L476 718.02 L477 718.12 L478 718.22 L479 718.32 L480 718.43 L481 718.54 L482 718.66 L483 718.78 L484 718.9 L485 719.02 L486 719.15 L487 719.29 L488 719.42 L489 719.56 L490 719.7 L491 719.85 L492 720 L493 720.15 L494 720.3 L495 720.46 L496 720.62 L497 720.79 L498 720.95 L499 721.12 L500 721.3 L501 721.47 L502 721.65 L503 721.83 L504 722.02 L505 722.21 L506 722.41 L507 722.61 L508 722.82 L509 723.03 L510 723.25 L511 723.48 L512 723.72 L513 723.97 L514 724.23 L515 724.5 L516 724.78 L517 725.07 L518 725.38 L519 725.69 L520 726.03 L521 726.37 L522 726.73 L523 727.11 L524 727.5 L525 727.91 L526 728.34 L527 728.78 L528 729.24 L529 729.72 L530 730.21 L531 730.72 L532 731.26 L533 731.81 L534 732.38 L535 732.98 L536 733.59 L537 734.22 L538 734.87 L539 735.54 L540 736.22 L541 736.91 L542 737.61 L543 738.33 L544 739.05 L545 739.78 L546 740.51 L547 741.25 L548 741.99 L549 742.73 L550 743.46 L551 744.2 L552 744.93 L553 745.65 L554 746.37 L555 747.08 L556 747.79 L557 748.49 L558 749.19 L559 749.88 L560 750.58 L561 751.26 L562 751.95 L563 752.63 L564 753.31 L565 753.99 L566 754.66 L567 755.34 L568 756.01 L569 756.68 L570 757.36 L571 758.03 L572 758.7 L573 759.38 L574 760.05 L575 760.73 L576 761.41 L577 762.09 L578 762.78 L579 763.46 L580 764.15 L581 764.84 L582 765.54 L583 766.24 L584 766.94 L585 767.64 L586 768.34 L587 769.05 L588 769.76 L589 770.48 L590 771.19 L591 771.91 L592 772.63 L593 773.36 L594 774.08 L595 774.81 L596 775.55 L597 776.28 L598 777.02 L599 777.76 L600 778.5 L601 779.25 L602 780 L603 780.75 L604 781.51 L605 782.27 L606 783.03 L607 783.8 L608 784.57 L609 785.35 L610 786.14 L611 786.93 L612 787.73 L613 788.54 L614 789.36 L615 790.19 L616 791.02 L617 791.87 L618 792.73 L619 793.6 L620 794.48 L621 795.37 L622 796.28 L623 797.2 L624 798.14 L625 799.09 L626 800.06 L627 801.04 L628 802.04 L629 803.05 L630 804.08 L631 805.13 L632 806.19 L633 807.26 L634 808.34 L635 809.44 L636 810.55 L637 811.66 L638 812.79 L639 813.92 L640 815.06 L641 816.21 L642 817.36 L643 818.52 L644 819.68 L645 820.84 L646 822.01 L647 823.18 L648 824.35 L649 825.52 L650 826.69 L651 827.85 L652 829.02 L653 830.18 L654 831.33 L655 832.48 L656 833.63 L657 834.77 L658 835.9 L659 837.02 L660 838.13" fill="none" stroke="#2a2f7a" stroke-width="5.5" stroke-linejoin="round" stroke-linecap="round" />
<path d="M146 965.85 L147 964.95 L148 964.06 L149 963.18 L150 962.3 L151 961.42 L152 960.55 L153 959.67 L154 958.8 L155 957.93 L156 957.06 L157 956.19 L158 955.31 L159 954.44 L160 953.56 L161 952.68 L162 951.79 L163 950.89 L164 950 L165 949.09 L166 948.18 L167 947.25 L168 946.32 L169 945.39 L170 944.44 L171 943.49 L172 942.52 L173 941.55 L174 940.58 L175 939.6 L176 938.61 L177 937.61 L178 936.61 L179 935.61 L180 934.59 L181 933.58 L182 932.56 L183 931.53 L184 930.5 L185 929.47 L186 928.44 L187 927.4 L188 926.36 L189 925.31 L190 924.26 L191 923.22 L192 922.16 L193 921.11 L194 920.05 L195 918.99 L196 917.92 L197 916.86 L198 915.78 L199 914.71 L200 913.63 L201 912.54 L202 911.46 L203 910.36 L204 909.26 L205 908.16 L206 907.05 L207 905.94 L208 904.82 L209 903.7 L210 902.57 L211 901.43 L212 900.29 L213 899.14 L214 897.99 L215 896.83 L216 895.67 L217 894.5 L218 893.33 L219 892.16 L220 890.98 L221 889.8 L222 888.62 L223 887.44 L224 886.26 L225 885.07 L226 883.88 L227 882.7 L228 881.51 L229 880.32 L230 879.13 L231 877.95 L232 876.76 L233 875.58 L234 874.4 L235 873.21 L236 872.03 L237 870.85 L238 869.68 L239 868.5 L240 867.32 L241 866.14 L242 864.96 L243 863.77 L244 862.59 L245 861.41 L246 860.22 L247 859.04 L248 857.85 L249 856.66 L250 855.46 L251 854.27 L252 853.07 L253 851.86 L254 850.66 L255 849.45 L256 848.24 L257 847.02 L258 845.8 L259 844.58 L260 843.36 L261 842.13 L262 840.9 L263 839.68 L264 838.45 L265 837.22 L266 835.98 L267 834.75 L268 833.52 L269 832.29 L270 831.06 L271 829.83 L272 828.6 L273 827.37 L274 826.15 L275 824.92 L276 823.7 L277 822.48 L278 821.26 L279 820.05 L280 818.84 L281 817.63 L282 816.42 L283 815.22 L284 814.02 L285 812.82 L286 811.63 L287 810.44 L288 809.25 L289 808.07 L290 806.89 L291 805.71 L292 804.54 L293 803.38 L294 802.21 L295 801.06 L296 799.9 L297 798.75 L298 797.61 L299 796.47 L300 795.34 L301 794.21 L302 793.09 L303 791.97 L304 790.86 L305 789.76 L306 788.66 L307 787.58 L308 786.49 L309 785.42 L310 784.36 L311 783.3 L312 782.25 L313 781.22 L314 780.19 L315 779.17 L316 778.16 L317 777.16 L318 776.17 L319 775.19 L320 774.23 L321 773.27 L322 772.33 L323 771.39 L324 770.47 L325 769.55 L326 768.65 L327 767.75 L328 766.86 L329 765.98 L330 765.11 L331 764.24 L332 763.38 L333 762.52 L334 761.67 L335 760.82 L336 759.98 L337 759.14 L338 758.31 L339 757.48 L340 756.65 L341 755.82 L342 754.99 L343 754.17 L344 753.34 L345 752.51 L346 751.69 L347 750.86 L348 750.04 L349 749.21 L350 748.39 L351 747.56 L352 746.74 L353 745.92 L354 745.11 L355 744.29 L356 743.48 L357 742.68 L358 741.88 L359 741.08 L360 740.29 L361 739.5 L362 738.72 L363 737.95 L364 737.18 L365 736.42 L366 735.67 L367 734.93 L368 734.19 L369 733.46 L370 732.75 L371 732.04 L372 731.34 L373 730.65 L374 729.98 L375 729.31 L376 728.66 L377 728.01 L378 727.38 L379 726.77 L380 726.16 L381 725.57 L382 724.98 L383 724.41 L384 723.85 L385 723.31 L386 722.77 L387 722.25 L388 721.73 L389 721.23 L390 720.74 L391 720.26 L392 719.8 L393 719.34 L394 718.9 L395 718.46 L396 718.04 L397 717.63 L398 717.23 L399 716.84 L400 716.47 L401 716.1 L402 715.75 L403 715.4 L404 715.07 L405 714.74 L406 714.43 L407 714.13 L408 713.84 L409 713.55 L410 713.28 L411 713.01 L412 712.76 L413 712.51 L414 712.27 L415 712.04 L416 711.82 L417 711.61 L418 711.41 L419 711.21 L420 711.02 L421 710.84 L422 710.67 L423 710.5 L424 710.34 L425 710.18 L426 710.04 L427 709.9 L428 709.76 L429 709.63 L430 709.51 L431 709.4 L432 709.29 L433 709.18 L434 709.08 L435 708.99 L436 708.9 L437 708.82 L438 708.75 L439 708.68 L440 708.61 L441 708.55 L442 708.5 L443 708.45 L444 708.41 L445 708.37 L446 708.34 L447 708.31 L448 708.29 L449 708.27 L450 708.25 L451 708.25 L452 708.24 L453 708.24 L454 708.25 L455 708.26 L456 708.27 L457 708.29 L458 708.31 L459 708.34 L460 708.37 L461 708.41 L462 708.45 L463 708.49 L464 708.54 L465 708.59 L466 708.65 L467 708.71 L468 708.77 L469 708.84 L470 708.91 L471 708.99 L472 709.07 L473 709.16 L474 709.24 L475 709.34 L476 709.43 L477 709.53 L478 709.63 L479 709.74 L480 709.85 L481 709.96 L482 710.08 L483 710.2 L484 710.33 L485 710.46 L486 710.59 L487 710.72 L488 710.86 L489 711 L490 711.15 L491 711.29 L492 711.44 L493 711.6 L494 711.76 L495 711.92 L496 712.08 L497 712.25 L498 712.42 L499 712.59 L500 712.77 L501 712.95 L502 713.13 L503 713.32 L504 713.51 L505 713.7 L506 713.9 L507 714.11 L508 714.32 L509 714.54 L510 714.76 L511 715 L512 715.24 L513 715.49 L514 715.76 L515 716.03 L516 716.32 L517 716.62 L518 716.93 L519 717.25 L520 717.59 L521 717.94 L522 718.31 L523 718.69 L524 719.09 L525 719.51 L526 719.94 L527 720.39 L528 720.86 L529 721.35 L530 721.85 L531 722.38 L532 722.92 L533 723.48 L534 724.06 L535 724.67 L536 725.29 L537 725.94 L538 726.6 L539 727.28 L540 727.97 L541 728.68 L542 729.39 L543 730.12 L544 730.86 L545 731.6 L546 732.35 L547 733.1 L548 733.85 L549 734.6 L550 735.35 L551 736.1 L552 736.85 L553 737.58 L554 738.31 L555 739.04 L556 739.76 L557 740.48 L558 741.19 L559 741.9 L560 742.6 L561 743.3 L562 744 L563 744.69 L564 745.38 L565 746.08 L566 746.76 L567 747.45 L568 748.14 L569 748.82 L570 749.51 L571 750.19 L572 750.88 L573 751.57 L574 752.26 L575 752.95 L576 753.64 L577 754.33 L578 755.03 L579 755.73 L580 756.43 L581 757.14 L582 757.84 L583 758.56 L584 759.27 L585 759.98 L586 760.7 L587 761.42 L588 762.15 L589 762.88 L590 763.61 L591 764.34 L592 765.07 L593 765.81 L594 766.55 L595 767.3 L596 768.04 L597 768.79 L598 769.54 L599 770.3 L600 771.06 L601 771.82 L602 772.58 L603 773.35 L604 774.12 L605 774.89 L606 775.67 L607 776.45 L608 777.24 L609 778.03 L610 778.83 L611 779.64 L612 780.46 L613 781.28 L614 782.11 L615 782.96 L616 783.81 L617 784.67 L618 785.55 L619 786.43 L620 787.33 L621 788.24 L622 789.17 L623 790.11 L624 791.06 L625 792.03 L626 793.01 L627 794.01 L628 795.03 L629 796.07 L630 797.12 L631 798.18 L632 799.26 L633 800.35 L634 801.46 L635 802.57 L636 803.7 L637 804.84 L638 805.98 L639 807.14 L640 808.3 L641 809.47 L642 810.64 L643 811.82 L644 813.01 L645 814.19 L646 815.38 L647 816.57 L648 817.76 L649 818.96 L650 820.15 L651 821.33 L652 822.52 L653 823.7 L654 824.88 L655 826.05 L656 827.22 L657 828.38 L658 829.53 L659 830.67 L660 831.81" fill="none" stroke="#1d8442" stroke-width="5.5" stroke-linejoin="round" stroke-linecap="round" />
<path d="M146 961.39 L147 960.48 L148 959.57 L149 958.67 L150 957.77 L151 956.87 L152 955.98 L153 955.09 L154 954.2 L155 953.31 L156 952.42 L157 951.53 L158 950.64 L159 949.74 L160 948.84 L161 947.94 L162 947.03 L163 946.12 L164 945.2 L165 944.28 L166 943.34 L167 942.4 L168 941.45 L169 940.5 L170 939.53 L171 938.55 L172 937.57 L173 936.58 L174 935.58 L175 934.58 L176 933.57 L177 932.55 L178 931.53 L179 930.51 L180 929.47 L181 928.43 L182 927.39 L183 926.35 L184 925.29 L185 924.24 L186 923.18 L187 922.12 L188 921.06 L189 919.99 L190 918.92 L191 917.85 L192 916.77 L193 915.7 L194 914.62 L195 913.53 L196 912.45 L197 911.35 L198 910.26 L199 909.16 L200 908.06 L201 906.95 L202 905.84 L203 904.72 L204 903.6 L205 902.47 L206 901.34 L207 900.2 L208 899.06 L209 897.91 L210 896.76 L211 895.6 L212 894.43 L213 893.26 L214 892.08 L215 890.9 L216 889.71 L217 888.52 L218 887.33 L219 886.13 L220 884.93 L221 883.72 L222 882.52 L223 881.31 L224 880.1 L225 878.89 L226 877.67 L227 876.46 L228 875.25 L229 874.04 L230 872.82 L231 871.61 L232 870.4 L233 869.19 L234 867.98 L235 866.78 L236 865.57 L237 864.37 L238 863.16 L239 861.96 L240 860.75 L241 859.55 L242 858.34 L243 857.14 L244 855.93 L245 854.72 L246 853.51 L247 852.3 L248 851.08 L249 849.87 L250 848.65 L251 847.42 L252 846.2 L253 844.97 L254 843.74 L255 842.5 L256 841.26 L257 840.02 L258 838.78 L259 837.53 L260 836.28 L261 835.03 L262 833.78 L263 832.52 L264 831.27 L265 830.01 L266 828.75 L267 827.49 L268 826.23 L269 824.98 L270 823.72 L271 822.46 L272 821.21 L273 819.95 L274 818.7 L275 817.45 L276 816.2 L277 814.96 L278 813.71 L279 812.47 L280 811.23 L281 810 L282 808.77 L283 807.54 L284 806.31 L285 805.09 L286 803.87 L287 802.65 L288 801.44 L289 800.24 L290 799.03 L291 797.83 L292 796.64 L293 795.44 L294 794.26 L295 793.07 L296 791.9 L297 790.72 L298 789.55 L299 788.39 L300 787.23 L301 786.08 L302 784.94 L303 783.8 L304 782.66 L305 781.54 L306 780.42 L307 779.3 L308 778.2 L309 777.11 L310 776.02 L311 774.94 L312 773.87 L313 772.81 L314 771.76 L315 770.72 L316 769.69 L317 768.66 L318 767.65 L319 766.66 L320 765.67 L321 764.69 L322 763.73 L323 762.77 L324 761.83 L325 760.9 L326 759.97 L327 759.06 L328 758.15 L329 757.25 L330 756.35 L331 755.47 L332 754.59 L333 753.71 L334 752.84 L335 751.98 L336 751.12 L337 750.26 L338 749.41 L339 748.56 L340 747.71 L341 746.87 L342 746.02 L343 745.18 L344 744.34 L345 743.49 L346 742.65 L347 741.81 L348 740.96 L349 740.12 L350 739.28 L351 738.44 L352 737.6 L353 736.76 L354 735.93 L355 735.1 L356 734.27 L357 733.45 L358 732.63 L359 731.81 L360 731 L361 730.2 L362 729.4 L363 728.61 L364 727.83 L365 727.06 L366 726.29 L367 725.53 L368 724.78 L369 724.03 L370 723.3 L371 722.58 L372 721.86 L373 721.16 L374 720.47 L375 719.79 L376 719.12 L377 718.47 L378 717.82 L379 717.19 L380 716.57 L381 715.97 L382 715.37 L383 714.79 L384 714.22 L385 713.66 L386 713.11 L387 712.58 L388 712.05 L389 711.54 L390 711.04 L391 710.55 L392 710.07 L393 709.61 L394 709.16 L395 708.71 L396 708.28 L397 707.86 L398 707.45 L399 707.06 L400 706.67 L401 706.3 L402 705.94 L403 705.58 L404 705.24 L405 704.91 L406 704.59 L407 704.28 L408 703.99 L409 703.7 L410 703.42 L411 703.15 L412 702.88 L413 702.63 L414 702.39 L415 702.16 L416 701.93 L417 701.71 L418 701.5 L419 701.3 L420 701.11 L421 700.93 L422 700.75 L423 700.58 L424 700.41 L425 700.26 L426 700.11 L427 699.96 L428 699.82 L429 699.69 L430 699.57 L431 699.45 L432 699.34 L433 699.23 L434 699.13 L435 699.04 L436 698.95 L437 698.87 L438 698.79 L439 698.72 L440 698.65 L441 698.59 L442 698.54 L443 698.49 L444 698.44 L445 698.4 L446 698.37 L447 698.34 L448 698.32 L449 698.3 L450 698.28 L451 698.28 L452 698.27 L453 698.27 L454 698.28 L455 698.29 L456 698.3 L457 698.32 L458 698.34 L459 698.37 L460 698.4 L461 698.44 L462 698.48 L463 698.52 L464 698.57 L465 698.63 L466 698.69 L467 698.75 L468 698.81 L469 698.88 L470 698.96 L471 699.04 L472 699.12 L473 699.21 L474 699.3 L475 699.39 L476 699.49 L477 699.59 L478 699.69 L479 699.8 L480 699.92 L481 700.03 L482 700.15 L483 700.27 L484 700.4 L485 700.53 L486 700.67 L487 700.8 L488 700.95 L489 701.09 L490 701.24 L491 701.39 L492 701.54 L493 701.7 L494 701.86 L495 702.03 L496 702.19 L497 702.36 L498 702.54 L499 702.72 L500 702.9 L501 703.08 L502 703.27 L503 703.46 L504 703.65 L505 703.85 L506 704.05 L507 704.26 L508 704.48 L509 704.7 L510 704.93 L511 705.17 L512 705.42 L513 705.68 L514 705.95 L515 706.23 L516 706.52 L517 706.82 L518 707.14 L519 707.47 L520 707.82 L521 708.18 L522 708.56 L523 708.95 L524 709.36 L525 709.78 L526 710.22 L527 710.68 L528 711.16 L529 711.66 L530 712.17 L531 712.71 L532 713.26 L533 713.84 L534 714.43 L535 715.05 L536 715.69 L537 716.35 L538 717.02 L539 717.72 L540 718.42 L541 719.14 L542 719.88 L543 720.62 L544 721.37 L545 722.13 L546 722.89 L547 723.66 L548 724.43 L549 725.2 L550 725.96 L551 726.73 L552 727.49 L553 728.24 L554 728.99 L555 729.73 L556 730.47 L557 731.2 L558 731.93 L559 732.65 L560 733.37 L561 734.08 L562 734.79 L563 735.5 L564 736.21 L565 736.92 L566 737.62 L567 738.32 L568 739.02 L569 739.72 L570 740.42 L571 741.12 L572 741.82 L573 742.53 L574 743.23 L575 743.93 L576 744.64 L577 745.35 L578 746.06 L579 746.78 L580 747.49 L581 748.21 L582 748.94 L583 749.66 L584 750.39 L585 751.12 L586 751.86 L587 752.59 L588 753.33 L589 754.08 L590 754.82 L591 755.57 L592 756.32 L593 757.07 L594 757.83 L595 758.59 L596 759.35 L597 760.12 L598 760.89 L599 761.66 L600 762.43 L601 763.21 L602 763.99 L603 764.77 L604 765.56 L605 766.35 L606 767.14 L607 767.94 L608 768.75 L609 769.56 L610 770.37 L611 771.2 L612 772.03 L613 772.88 L614 773.73 L615 774.59 L616 775.46 L617 776.34 L618 777.23 L619 778.14 L620 779.06 L621 779.99 L622 780.93 L623 781.89 L624 782.86 L625 783.85 L626 784.86 L627 785.88 L628 786.92 L629 787.98 L630 789.05 L631 790.14 L632 791.24 L633 792.35 L634 793.48 L635 794.62 L636 795.77 L637 796.94 L638 798.11 L639 799.29 L640 800.47 L641 801.67 L642 802.87 L643 804.07 L644 805.28 L645 806.49 L646 807.71 L647 808.92 L648 810.14 L649 811.36 L650 812.57 L651 813.79 L652 815 L653 816.2 L654 817.41 L655 818.6 L656 819.8 L657 820.98 L658 822.16 L659 823.32 L660 824.48" fill="none" stroke="#1f4fae" stroke-width="5.5" stroke-linejoin="round" stroke-linecap="round" />
<path d="M146 960.79 L147 959.87 L148 958.96 L149 958.05 L150 957.15 L151 956.25 L152 955.36 L153 954.46 L154 953.57 L155 952.68 L156 951.79 L157 950.89 L158 950 L159 949.1 L160 948.2 L161 947.3 L162 946.39 L163 945.47 L164 944.55 L165 943.62 L166 942.69 L167 941.74 L168 940.79 L169 939.83 L170 938.86 L171 937.88 L172 936.9 L173 935.9 L174 934.9 L175 933.9 L176 932.88 L177 931.87 L178 930.84 L179 929.81 L180 928.77 L181 927.73 L182 926.69 L183 925.64 L184 924.58 L185 923.53 L186 922.47 L187 921.4 L188 920.33 L189 919.26 L190 918.19 L191 917.12 L192 916.04 L193 914.96 L194 913.88 L195 912.79 L196 911.7 L197 910.6 L198 909.51 L199 908.4 L200 907.3 L201 906.19 L202 905.07 L203 903.95 L204 902.83 L205 901.7 L206 900.56 L207 899.42 L208 898.27 L209 897.12 L210 895.96 L211 894.8 L212 893.63 L213 892.46 L214 891.27 L215 890.09 L216 888.9 L217 887.7 L218 886.51 L219 885.31 L220 884.1 L221 882.89 L222 881.68 L223 880.47 L224 879.26 L225 878.04 L226 876.83 L227 875.61 L228 874.4 L229 873.18 L230 871.96 L231 870.75 L232 869.53 L233 868.32 L234 867.11 L235 865.9 L236 864.69 L237 863.48 L238 862.27 L239 861.07 L240 859.86 L241 858.65 L242 857.44 L243 856.23 L244 855.02 L245 853.81 L246 852.59 L247 851.38 L248 850.16 L249 848.94 L250 847.72 L251 846.49 L252 845.26 L253 844.03 L254 842.8 L255 841.56 L256 840.31 L257 839.07 L258 837.82 L259 836.57 L260 835.32 L261 834.06 L262 832.8 L263 831.55 L264 830.29 L265 829.03 L266 827.76 L267 826.5 L268 825.24 L269 823.98 L270 822.72 L271 821.46 L272 820.2 L273 818.94 L274 817.69 L275 816.43 L276 815.18 L277 813.93 L278 812.68 L279 811.44 L280 810.2 L281 808.96 L282 807.72 L283 806.49 L284 805.26 L285 804.04 L286 802.81 L287 801.59 L288 800.38 L289 799.17 L290 797.96 L291 796.76 L292 795.56 L293 794.36 L294 793.17 L295 791.99 L296 790.8 L297 789.63 L298 788.46 L299 787.29 L300 786.13 L301 784.97 L302 783.82 L303 782.68 L304 781.54 L305 780.41 L306 779.29 L307 778.18 L308 777.07 L309 775.97 L310 774.88 L311 773.8 L312 772.73 L313 771.66 L314 770.61 L315 769.56 L316 768.53 L317 767.51 L318 766.49 L319 765.49 L320 764.5 L321 763.52 L322 762.56 L323 761.6 L324 760.65 L325 759.72 L326 758.79 L327 757.87 L328 756.96 L329 756.06 L330 755.16 L331 754.27 L332 753.39 L333 752.51 L334 751.64 L335 750.77 L336 749.91 L337 749.05 L338 748.2 L339 747.35 L340 746.5 L341 745.65 L342 744.8 L343 743.95 L344 743.11 L345 742.26 L346 741.42 L347 740.57 L348 739.72 L349 738.88 L350 738.03 L351 737.19 L352 736.35 L353 735.51 L354 734.67 L355 733.84 L356 733.01 L357 732.19 L358 731.37 L359 730.55 L360 729.74 L361 728.93 L362 728.13 L363 727.34 L364 726.56 L365 725.78 L366 725.01 L367 724.25 L368 723.49 L369 722.75 L370 722.01 L371 721.29 L372 720.57 L373 719.87 L374 719.17 L375 718.49 L376 717.82 L377 717.17 L378 716.52 L379 715.89 L380 715.27 L381 714.66 L382 714.06 L383 713.48 L384 712.9 L385 712.34 L386 711.79 L387 711.26 L388 710.73 L389 710.22 L390 709.72 L391 709.23 L392 708.75 L393 708.28 L394 707.83 L395 707.38 L396 706.95 L397 706.53 L398 706.12 L399 705.72 L400 705.34 L401 704.96 L402 704.6 L403 704.25 L404 703.9 L405 703.57 L406 703.25 L407 702.94 L408 702.64 L409 702.35 L410 702.07 L411 701.8 L412 701.54 L413 701.29 L414 701.04 L415 700.81 L416 700.58 L417 700.36 L418 700.15 L419 699.95 L420 699.76 L421 699.57 L422 699.4 L423 699.22 L424 699.06 L425 698.9 L426 698.75 L427 698.61 L428 698.47 L429 698.34 L430 698.21 L431 698.09 L432 697.98 L433 697.88 L434 697.77 L435 697.68 L436 697.59 L437 697.51 L438 697.43 L439 697.36 L440 697.29 L441 697.23 L442 697.18 L443 697.13 L444 697.08 L445 697.04 L446 697.01 L447 696.98 L448 696.96 L449 696.94 L450 696.92 L451 696.92 L452 696.91 L453 696.91 L454 696.92 L455 696.93 L456 696.94 L457 696.96 L458 696.98 L459 697.01 L460 697.04 L461 697.08 L462 697.12 L463 697.17 L464 697.22 L465 697.27 L466 697.33 L467 697.39 L468 697.46 L469 697.53 L470 697.6 L471 697.68 L472 697.76 L473 697.85 L474 697.94 L475 698.03 L476 698.13 L477 698.23 L478 698.34 L479 698.45 L480 698.56 L481 698.68 L482 698.8 L483 698.92 L484 699.05 L485 699.18 L486 699.31 L487 699.45 L488 699.59 L489 699.74 L490 699.89 L491 700.04 L492 700.19 L493 700.35 L494 700.51 L495 700.68 L496 700.85 L497 701.02 L498 701.19 L499 701.37 L500 701.55 L501 701.73 L502 701.92 L503 702.11 L504 702.31 L505 702.5 L506 702.71 L507 702.92 L508 703.14 L509 703.36 L510 703.59 L511 703.83 L512 704.08 L513 704.34 L514 704.61 L515 704.89 L516 705.18 L517 705.49 L518 705.81 L519 706.14 L520 706.49 L521 706.85 L522 707.23 L523 707.62 L524 708.03 L525 708.45 L526 708.9 L527 709.36 L528 709.84 L529 710.34 L530 710.85 L531 711.39 L532 711.95 L533 712.52 L534 713.12 L535 713.74 L536 714.38 L537 715.04 L538 715.72 L539 716.41 L540 717.12 L541 717.84 L542 718.58 L543 719.32 L544 720.08 L545 720.84 L546 721.6 L547 722.37 L548 723.14 L549 723.91 L550 724.68 L551 725.45 L552 726.21 L553 726.97 L554 727.72 L555 728.46 L556 729.2 L557 729.93 L558 730.66 L559 731.39 L560 732.11 L561 732.82 L562 733.54 L563 734.25 L564 734.96 L565 735.67 L566 736.37 L567 737.08 L568 737.78 L569 738.48 L570 739.18 L571 739.89 L572 740.59 L573 741.29 L574 742 L575 742.71 L576 743.41 L577 744.13 L578 744.84 L579 745.56 L580 746.28 L581 747 L582 747.72 L583 748.45 L584 749.18 L585 749.91 L586 750.65 L587 751.39 L588 752.13 L589 752.88 L590 753.62 L591 754.37 L592 755.13 L593 755.88 L594 756.64 L595 757.4 L596 758.17 L597 758.94 L598 759.71 L599 760.48 L600 761.26 L601 762.03 L602 762.82 L603 763.6 L604 764.39 L605 765.18 L606 765.98 L607 766.78 L608 767.59 L609 768.4 L610 769.22 L611 770.05 L612 770.89 L613 771.73 L614 772.58 L615 773.45 L616 774.32 L617 775.2 L618 776.1 L619 777.01 L620 777.93 L621 778.86 L622 779.81 L623 780.77 L624 781.75 L625 782.74 L626 783.75 L627 784.77 L628 785.81 L629 786.87 L630 787.95 L631 789.04 L632 790.14 L633 791.26 L634 792.4 L635 793.54 L636 794.69 L637 795.86 L638 797.03 L639 798.22 L640 799.41 L641 800.6 L642 801.81 L643 803.02 L644 804.23 L645 805.44 L646 806.66 L647 807.88 L648 809.1 L649 810.32 L650 811.54 L651 812.76 L652 813.97 L653 815.18 L654 816.39 L655 817.59 L656 818.78 L657 819.97 L658 821.15 L659 822.32 L660 823.48" fill="none" stroke="#bb5ab8" stroke-width="5.5" stroke-linejoin="round" stroke-linecap="round" />
<path d="M146 953.5 L147 952.55 L148 951.61 L149 950.67 L150 949.74 L151 948.81 L152 947.89 L153 946.96 L154 946.04 L155 945.12 L156 944.19 L157 943.27 L158 942.34 L159 941.41 L160 940.48 L161 939.55 L162 938.61 L163 937.66 L164 936.71 L165 935.75 L166 934.78 L167 933.8 L168 932.82 L169 931.82 L170 930.82 L171 929.81 L172 928.79 L173 927.77 L174 926.73 L175 925.69 L176 924.64 L177 923.59 L178 922.53 L179 921.46 L180 920.39 L181 919.32 L182 918.23 L183 917.15 L184 916.06 L185 914.97 L186 913.87 L187 912.77 L188 911.66 L189 910.56 L190 909.45 L191 908.34 L192 907.22 L193 906.1 L194 904.98 L195 903.86 L196 902.73 L197 901.6 L198 900.46 L199 899.32 L200 898.18 L201 897.03 L202 895.88 L203 894.72 L204 893.56 L205 892.39 L206 891.21 L207 890.03 L208 888.85 L209 887.66 L210 886.46 L211 885.26 L212 884.05 L213 882.83 L214 881.61 L215 880.38 L216 879.15 L217 877.92 L218 876.68 L219 875.44 L220 874.19 L221 872.94 L222 871.69 L223 870.44 L224 869.18 L225 867.93 L226 866.67 L227 865.41 L228 864.15 L229 862.9 L230 861.64 L231 860.38 L232 859.13 L233 857.87 L234 856.62 L235 855.37 L236 854.12 L237 852.87 L238 851.62 L239 850.37 L240 849.12 L241 847.87 L242 846.62 L243 845.37 L244 844.11 L245 842.86 L246 841.6 L247 840.35 L248 839.09 L249 837.83 L250 836.56 L251 835.29 L252 834.02 L253 832.75 L254 831.47 L255 830.19 L256 828.91 L257 827.62 L258 826.33 L259 825.03 L260 823.74 L261 822.44 L262 821.14 L263 819.84 L264 818.53 L265 817.23 L266 815.93 L267 814.62 L268 813.32 L269 812.01 L270 810.71 L271 809.41 L272 808.1 L273 806.8 L274 805.5 L275 804.21 L276 802.91 L277 801.62 L278 800.33 L279 799.04 L280 797.76 L281 796.48 L282 795.2 L283 793.92 L284 792.65 L285 791.39 L286 790.12 L287 788.86 L288 787.6 L289 786.35 L290 785.1 L291 783.86 L292 782.62 L293 781.38 L294 780.15 L295 778.92 L296 777.7 L297 776.49 L298 775.27 L299 774.07 L300 772.87 L301 771.67 L302 770.48 L303 769.3 L304 768.12 L305 766.96 L306 765.8 L307 764.64 L308 763.5 L309 762.36 L310 761.23 L311 760.11 L312 759 L313 757.9 L314 756.81 L315 755.73 L316 754.67 L317 753.61 L318 752.56 L319 751.52 L320 750.5 L321 749.49 L322 748.49 L323 747.5 L324 746.52 L325 745.55 L326 744.59 L327 743.64 L328 742.7 L329 741.77 L330 740.84 L331 739.92 L332 739.01 L333 738.1 L334 737.2 L335 736.3 L336 735.41 L337 734.52 L338 733.64 L339 732.76 L340 731.88 L341 731 L342 730.12 L343 729.25 L344 728.37 L345 727.5 L346 726.62 L347 725.75 L348 724.87 L349 724 L350 723.13 L351 722.25 L352 721.38 L353 720.52 L354 719.65 L355 718.79 L356 717.93 L357 717.08 L358 716.23 L359 715.39 L360 714.55 L361 713.71 L362 712.89 L363 712.07 L364 711.26 L365 710.45 L366 709.65 L367 708.87 L368 708.09 L369 707.32 L370 706.56 L371 705.81 L372 705.07 L373 704.34 L374 703.62 L375 702.92 L376 702.22 L377 701.54 L378 700.88 L379 700.22 L380 699.58 L381 698.95 L382 698.33 L383 697.73 L384 697.14 L385 696.56 L386 695.99 L387 695.43 L388 694.89 L389 694.36 L390 693.84 L391 693.33 L392 692.84 L393 692.36 L394 691.89 L395 691.43 L396 690.98 L397 690.55 L398 690.12 L399 689.71 L400 689.31 L401 688.92 L402 688.55 L403 688.18 L404 687.83 L405 687.49 L406 687.15 L407 686.83 L408 686.52 L409 686.22 L410 685.93 L411 685.65 L412 685.38 L413 685.12 L414 684.87 L415 684.63 L416 684.39 L417 684.17 L418 683.95 L419 683.74 L420 683.54 L421 683.35 L422 683.17 L423 682.99 L424 682.82 L425 682.66 L426 682.5 L427 682.35 L428 682.21 L429 682.07 L430 681.94 L431 681.82 L432 681.7 L433 681.59 L434 681.49 L435 681.39 L436 681.3 L437 681.21 L438 681.13 L439 681.06 L440 680.99 L441 680.93 L442 680.87 L443 680.82 L444 680.77 L445 680.73 L446 680.7 L447 680.67 L448 680.64 L449 680.63 L450 680.61 L451 680.6 L452 680.6 L453 680.6 L454 680.6 L455 680.61 L456 680.63 L457 680.65 L458 680.67 L459 680.7 L460 680.73 L461 680.77 L462 680.81 L463 680.86 L464 680.91 L465 680.97 L466 681.03 L467 681.09 L468 681.16 L469 681.23 L470 681.31 L471 681.39 L472 681.48 L473 681.57 L474 681.66 L475 681.76 L476 681.86 L477 681.96 L478 682.07 L479 682.19 L480 682.3 L481 682.42 L482 682.55 L483 682.68 L484 682.81 L485 682.94 L486 683.08 L487 683.22 L488 683.37 L489 683.52 L490 683.67 L491 683.83 L492 683.99 L493 684.15 L494 684.32 L495 684.49 L496 684.67 L497 684.84 L498 685.02 L499 685.21 L500 685.39 L501 685.58 L502 685.78 L503 685.97 L504 686.18 L505 686.38 L506 686.59 L507 686.81 L508 687.03 L509 687.27 L510 687.51 L511 687.75 L512 688.01 L513 688.28 L514 688.56 L515 688.85 L516 689.15 L517 689.47 L518 689.8 L519 690.14 L520 690.5 L521 690.87 L522 691.26 L523 691.67 L524 692.09 L525 692.53 L526 692.99 L527 693.47 L528 693.97 L529 694.48 L530 695.02 L531 695.57 L532 696.15 L533 696.74 L534 697.36 L535 698 L536 698.66 L537 699.34 L538 700.05 L539 700.76 L540 701.5 L541 702.25 L542 703.01 L543 703.78 L544 704.56 L545 705.34 L546 706.13 L547 706.93 L548 707.73 L549 708.52 L550 709.32 L551 710.11 L552 710.9 L553 711.68 L554 712.46 L555 713.23 L556 713.99 L557 714.75 L558 715.5 L559 716.25 L560 717 L561 717.74 L562 718.48 L563 719.21 L564 719.95 L565 720.68 L566 721.41 L567 722.14 L568 722.86 L569 723.59 L570 724.32 L571 725.04 L572 725.77 L573 726.5 L574 727.23 L575 727.96 L576 728.69 L577 729.43 L578 730.16 L579 730.91 L580 731.65 L581 732.4 L582 733.15 L583 733.9 L584 734.65 L585 735.41 L586 736.17 L587 736.94 L588 737.71 L589 738.48 L590 739.25 L591 740.03 L592 740.8 L593 741.59 L594 742.37 L595 743.16 L596 743.95 L597 744.74 L598 745.54 L599 746.34 L600 747.14 L601 747.95 L602 748.76 L603 749.57 L604 750.38 L605 751.2 L606 752.03 L607 752.86 L608 753.69 L609 754.53 L610 755.38 L611 756.24 L612 757.1 L613 757.97 L614 758.86 L615 759.75 L616 760.65 L617 761.57 L618 762.49 L619 763.43 L620 764.38 L621 765.35 L622 766.33 L623 767.32 L624 768.33 L625 769.36 L626 770.4 L627 771.46 L628 772.54 L629 773.64 L630 774.75 L631 775.88 L632 777.02 L633 778.18 L634 779.35 L635 780.53 L636 781.73 L637 782.93 L638 784.14 L639 785.37 L640 786.6 L641 787.84 L642 789.08 L643 790.33 L644 791.58 L645 792.84 L646 794.1 L647 795.36 L648 796.62 L649 797.89 L650 799.15 L651 800.41 L652 801.66 L653 802.91 L654 804.16 L655 805.4 L656 806.64 L657 807.87 L658 809.09 L659 810.3 L660 811.5" fill="none" stroke="#ee1b22" stroke-width="5.0" stroke-linejoin="round" stroke-linecap="round" />
<path d="M146 937 L147 936.14 L148 935.26 L149 934.36 L150 933.45 L151 932.52 L152 931.58 L153 930.62 L154 929.64 L155 928.66 L156 927.66 L157 926.65 L158 925.63 L159 924.6 L160 923.56 L161 922.51 L162 921.45 L163 920.39 L164 919.32 L165 918.25 L166 917.17 L167 916.08 L168 915 L169 913.9 L170 912.81 L171 911.71 L172 910.61 L173 909.5 L174 908.39 L175 907.27 L176 906.15 L177 905.02 L178 903.89 L179 902.75 L180 901.61 L181 900.46 L182 899.3 L183 898.14 L184 896.97 L185 895.79 L186 894.61 L187 893.42 L188 892.22 L189 891.02 L190 889.8 L191 888.58 L192 887.36 L193 886.12 L194 884.88 L195 883.63 L196 882.37 L197 881.1 L198 879.83 L199 878.55 L200 877.26 L201 875.96 L202 874.65 L203 873.34 L204 872.02 L205 870.69 L206 869.35 L207 868 L208 866.65 L209 865.28 L210 863.91 L211 862.53 L212 861.15 L213 859.75 L214 858.35 L215 856.94 L216 855.52 L217 854.09 L218 852.65 L219 851.21 L220 849.76 L221 848.3 L222 846.83 L223 845.36 L224 843.88 L225 842.39 L226 840.89 L227 839.39 L228 837.88 L229 836.36 L230 834.83 L231 833.3 L232 831.75 L233 830.21 L234 828.65 L235 827.09 L236 825.52 L237 823.95 L238 822.37 L239 820.78 L240 819.19 L241 817.6 L242 816 L243 814.4 L244 812.8 L245 811.19 L246 809.58 L247 807.97 L248 806.35 L249 804.73 L250 803.12 L251 801.5 L252 799.88 L253 798.26 L254 796.64 L255 795.02 L256 793.4 L257 791.78 L258 790.17 L259 788.55 L260 786.94 L261 785.32 L262 783.72 L263 782.11 L264 780.5 L265 778.9 L266 777.3 L267 775.71 L268 774.11 L269 772.53 L270 770.94 L271 769.36 L272 767.79 L273 766.22 L274 764.65 L275 763.09 L276 761.53 L277 759.98 L278 758.44 L279 756.9 L280 755.37 L281 753.85 L282 752.33 L283 750.82 L284 749.32 L285 747.82 L286 746.33 L287 744.86 L288 743.38 L289 741.92 L290 740.47 L291 739.02 L292 737.59 L293 736.16 L294 734.74 L295 733.34 L296 731.94 L297 730.55 L298 729.18 L299 727.81 L300 726.46 L301 725.11 L302 723.78 L303 722.45 L304 721.14 L305 719.84 L306 718.55 L307 717.26 L308 715.99 L309 714.73 L310 713.48 L311 712.24 L312 711 L313 709.78 L314 708.57 L315 707.37 L316 706.18 L317 704.99 L318 703.82 L319 702.65 L320 701.5 L321 700.35 L322 699.22 L323 698.09 L324 696.98 L325 695.87 L326 694.77 L327 693.68 L328 692.6 L329 691.52 L330 690.46 L331 689.41 L332 688.36 L333 687.32 L334 686.29 L335 685.27 L336 684.26 L337 683.25 L338 682.26 L339 681.27 L340 680.29 L341 679.31 L342 678.35 L343 677.39 L344 676.44 L345 675.5 L346 674.57 L347 673.64 L348 672.72 L349 671.81 L350 670.9 L351 670 L352 669.11 L353 668.23 L354 667.35 L355 666.48 L356 665.62 L357 664.76 L358 663.91 L359 663.07 L360 662.23 L361 661.4 L362 660.58 L363 659.76 L364 658.95 L365 658.15 L366 657.35 L367 656.56 L368 655.77 L369 655 L370 654.22 L371 653.45 L372 652.69 L373 651.94 L374 651.19 L375 650.44 L376 649.71 L377 648.97 L378 648.25 L379 647.53 L380 646.81 L381 646.1 L382 645.41 L383 644.71 L384 644.03 L385 643.35 L386 642.69 L387 642.03 L388 641.38 L389 640.74 L390 640.11 L391 639.49 L392 638.88 L393 638.28 L394 637.69 L395 637.11 L396 636.55 L397 635.99 L398 635.45 L399 634.92 L400 634.4 L401 633.9 L402 633.41 L403 632.93 L404 632.47 L405 632.02 L406 631.58 L407 631.15 L408 630.73 L409 630.33 L410 629.94 L411 629.56 L412 629.19 L413 628.82 L414 628.48 L415 628.14 L416 627.81 L417 627.49 L418 627.18 L419 626.87 L420 626.58 L421 626.3 L422 626.02 L423 625.75 L424 625.5 L425 625.24 L426 625 L427 624.76 L428 624.53 L429 624.31 L430 624.1 L431 623.89 L432 623.69 L433 623.5 L434 623.31 L435 623.14 L436 622.97 L437 622.81 L438 622.65 L439 622.51 L440 622.37 L441 622.24 L442 622.12 L443 622.01 L444 621.9 L445 621.81 L446 621.72 L447 621.64 L448 621.57 L449 621.51 L450 621.45 L451 621.41 L452 621.37 L453 621.34 L454 621.32 L455 621.31 L456 621.31 L457 621.32 L458 621.34 L459 621.36 L460 621.4 L461 621.44 L462 621.49 L463 621.55 L464 621.62 L465 621.69 L466 621.78 L467 621.88 L468 621.98 L469 622.09 L470 622.21 L471 622.34 L472 622.48 L473 622.63 L474 622.79 L475 622.95 L476 623.13 L477 623.31 L478 623.5 L479 623.7 L480 623.91 L481 624.13 L482 624.35 L483 624.59 L484 624.83 L485 625.08 L486 625.33 L487 625.6 L488 625.87 L489 626.15 L490 626.43 L491 626.72 L492 627.02 L493 627.33 L494 627.64 L495 627.96 L496 628.28 L497 628.61 L498 628.95 L499 629.29 L500 629.63 L501 629.99 L502 630.34 L503 630.71 L504 631.07 L505 631.45 L506 631.83 L507 632.21 L508 632.61 L509 633.01 L510 633.41 L511 633.83 L512 634.25 L513 634.68 L514 635.12 L515 635.56 L516 636.02 L517 636.49 L518 636.96 L519 637.45 L520 637.94 L521 638.45 L522 638.96 L523 639.49 L524 640.03 L525 640.58 L526 641.14 L527 641.72 L528 642.3 L529 642.9 L530 643.51 L531 644.13 L532 644.76 L533 645.41 L534 646.06 L535 646.72 L536 647.4 L537 648.08 L538 648.77 L539 649.47 L540 650.18 L541 650.89 L542 651.62 L543 652.35 L544 653.09 L545 653.83 L546 654.58 L547 655.34 L548 656.1 L549 656.87 L550 657.64 L551 658.42 L552 659.2 L553 659.99 L554 660.78 L555 661.57 L556 662.37 L557 663.17 L558 663.98 L559 664.79 L560 665.61 L561 666.43 L562 667.26 L563 668.1 L564 668.94 L565 669.79 L566 670.64 L567 671.5 L568 672.37 L569 673.24 L570 674.12 L571 675.01 L572 675.91 L573 676.81 L574 677.72 L575 678.64 L576 679.57 L577 680.51 L578 681.45 L579 682.4 L580 683.36 L581 684.33 L582 685.31 L583 686.29 L584 687.28 L585 688.27 L586 689.27 L587 690.27 L588 691.27 L589 692.28 L590 693.29 L591 694.31 L592 695.32 L593 696.34 L594 697.36 L595 698.38 L596 699.4 L597 700.42 L598 701.44 L599 702.46 L600 703.47 L601 704.49 L602 705.5 L603 706.5 L604 707.51 L605 708.51 L606 709.51 L607 710.51 L608 711.5 L609 712.5 L610 713.49 L611 714.48 L612 715.47 L613 716.46 L614 717.45 L615 718.44 L616 719.44 L617 720.43 L618 721.42 L619 722.42 L620 723.42 L621 724.42 L622 725.42 L623 726.43 L624 727.44 L625 728.45 L626 729.47 L627 730.49 L628 731.51 L629 732.54 L630 733.58 L631 734.62 L632 735.66 L633 736.71 L634 737.75 L635 738.81 L636 739.86 L637 740.92 L638 741.97 L639 743.03 L640 744.09 L641 745.15 L642 746.21 L643 747.27 L644 748.33 L645 749.39 L646 750.45 L647 751.51 L648 752.57 L649 753.62 L650 754.67 L651 755.72 L652 756.77 L653 757.81 L654 758.85 L655 759.89 L656 760.92 L657 761.95 L658 762.97 L659 763.99 L660 765" fill="none" stroke="#000" stroke-width="5.0" stroke-linejoin="round" stroke-linecap="round" />
</g>
<rect x="148.7" y="576.5" width="508" height="408.5" fill="none" stroke="#000" stroke-width="3"/>
<line x1="200.36" y1="985" x2="200.36" y2="995" stroke="#000" stroke-width="3" />
<line x1="301.88" y1="985" x2="301.88" y2="995" stroke="#000" stroke-width="3" />
<line x1="403.4" y1="985" x2="403.4" y2="995" stroke="#000" stroke-width="3" />
<line x1="504.92" y1="985" x2="504.92" y2="995" stroke="#000" stroke-width="3" />
<line x1="606.44" y1="985" x2="606.44" y2="995" stroke="#000" stroke-width="3" />
<line x1="251.12" y1="985" x2="251.12" y2="991" stroke="#000" stroke-width="3" />
<line x1="352.64" y1="985" x2="352.64" y2="991" stroke="#000" stroke-width="3" />
<line x1="454.16" y1="985" x2="454.16" y2="991" stroke="#000" stroke-width="3" />
<line x1="555.68" y1="985" x2="555.68" y2="991" stroke="#000" stroke-width="3" />
<line x1="657.2" y1="985" x2="657.2" y2="991" stroke="#000" stroke-width="3" />
<line x1="138.7" y1="984.96" x2="148.7" y2="984.96" stroke="#000" stroke-width="3" />
<line x1="138.7" y1="894.12" x2="148.7" y2="894.12" stroke="#000" stroke-width="3" />
<line x1="138.7" y1="803.28" x2="148.7" y2="803.28" stroke="#000" stroke-width="3" />
<line x1="138.7" y1="712.44" x2="148.7" y2="712.44" stroke="#000" stroke-width="3" />
<line x1="138.7" y1="621.6" x2="148.7" y2="621.6" stroke="#000" stroke-width="3" />
<line x1="142.7" y1="939.54" x2="148.7" y2="939.54" stroke="#000" stroke-width="3" />
<line x1="142.7" y1="848.7" x2="148.7" y2="848.7" stroke="#000" stroke-width="3" />
<line x1="142.7" y1="757.86" x2="148.7" y2="757.86" stroke="#000" stroke-width="3" />
<line x1="142.7" y1="667.02" x2="148.7" y2="667.02" stroke="#000" stroke-width="3" />
<line x1="142.7" y1="576.18" x2="148.7" y2="576.18" stroke="#000" stroke-width="3" />
<text transform="translate(173.14 1024.67) scale(0.9832 1)" font-size="32.96" fill="#1a1a1a" >760</text>
<text transform="translate(274.66 1024.67) scale(0.9832 1)" font-size="32.96" fill="#1a1a1a" >780</text>
<text transform="translate(376.26 1024.67) scale(0.9832 1)" font-size="32.96" fill="#1a1a1a" >800</text>
<text transform="translate(477.78 1024.67) scale(0.9832 1)" font-size="32.96" fill="#1a1a1a" >820</text>
<text transform="translate(579.3 1024.67) scale(0.9832 1)" font-size="32.96" fill="#1a1a1a" >840</text>
<text transform="translate(86.82 993.88) scale(1.0002 1)" font-size="32.82" fill="#1a1a1a" >0.2</text>
<text transform="translate(86.16 903.04) scale(1.0002 1)" font-size="32.82" fill="#1a1a1a" >0.4</text>
<text transform="translate(86.49 812.2) scale(1.0002 1)" font-size="32.82" fill="#1a1a1a" >0.6</text>
<text transform="translate(86.49 721.36) scale(1.0002 1)" font-size="32.82" fill="#1a1a1a" >0.8</text>
<text transform="translate(86.32 630.52) scale(1.0002 1)" font-size="32.82" fill="#1a1a1a" >1.0</text>
<text transform="translate(16.36 582.64) scale(0.9023 1)" font-size="56.20" fill="#1a1a1a" >C</text>
<text transform="translate(265.52 1062.35) scale(0.9764 1)" font-size="35.94" fill="#1a1a1a" >Wavelength (nm)</text>
<text transform="translate(63.07 962.76) rotate(-90) scale(0.9383 1)" font-size="32.79" fill="#1a1a1a" >Normalized Fluorescence</text>
<text transform="translate(179.86 619.37) scale(0.9452 1)" font-size="32.96" fill="#1a1a1a" >1.333</text>
<text transform="translate(231.45 668.2) scale(1.0204 1)" font-size="31.44" fill="#1a1a1a" >[RI]</text>
<text transform="translate(179.87 734.07) scale(0.9413 1)" font-size="32.96" fill="#1a1a1a" >1.344</text>
<line x1="216.2" y1="628.6" x2="216.2" y2="684.9" stroke="#000" stroke-width="2.6" />
<path d="M216.2 696.5 L210.2 683.9 L222.2 683.9 Z" fill="#000"/>
<line x1="935.8" y1="600" x2="935.8" y2="659.8" stroke="#8a8a8a" stroke-width="1.4" />
<line x1="931.3" y1="600" x2="940.3" y2="600" stroke="#8a8a8a" stroke-width="1.4" />
<line x1="931.3" y1="659.8" x2="940.3" y2="659.8" stroke="#8a8a8a" stroke-width="1.4" />
<line x1="1044.9" y1="779.9" x2="1044.9" y2="835.7" stroke="#8a8a8a" stroke-width="1.4" />
<line x1="1040.4" y1="779.9" x2="1049.4" y2="779.9" stroke="#8a8a8a" stroke-width="1.4" />
<line x1="1040.4" y1="835.7" x2="1049.4" y2="835.7" stroke="#8a8a8a" stroke-width="1.4" />
<line x1="1098.4" y1="818.3" x2="1098.4" y2="875" stroke="#8a8a8a" stroke-width="1.4" />
<line x1="1093.9" y1="818.3" x2="1102.9" y2="818.3" stroke="#8a8a8a" stroke-width="1.4" />
<line x1="1093.9" y1="875" x2="1102.9" y2="875" stroke="#8a8a8a" stroke-width="1.4" />
<line x1="1153" y1="783.2" x2="1153" y2="873.9" stroke="#8a8a8a" stroke-width="1.4" />
<line x1="1148.5" y1="783.2" x2="1157.5" y2="783.2" stroke="#8a8a8a" stroke-width="1.4" />
<line x1="1148.5" y1="873.9" x2="1157.5" y2="873.9" stroke="#8a8a8a" stroke-width="1.4" />
<line x1="1205" y1="840" x2="1205" y2="883" stroke="#8a8a8a" stroke-width="1.4" />
<line x1="1200.5" y1="840" x2="1209.5" y2="840" stroke="#8a8a8a" stroke-width="1.4" />
<line x1="1200.5" y1="883" x2="1209.5" y2="883" stroke="#8a8a8a" stroke-width="1.4" />
<line x1="1255.1" y1="869.7" x2="1255.1" y2="914.1" stroke="#8a8a8a" stroke-width="1.4" />
<line x1="1250.6" y1="869.7" x2="1259.6" y2="869.7" stroke="#8a8a8a" stroke-width="1.4" />
<line x1="1250.6" y1="914.1" x2="1259.6" y2="914.1" stroke="#8a8a8a" stroke-width="1.4" />
<line x1="1305.7" y1="844.4" x2="1305.7" y2="892.3" stroke="#8a8a8a" stroke-width="1.4" />
<line x1="1301.2" y1="844.4" x2="1310.2" y2="844.4" stroke="#8a8a8a" stroke-width="1.4" />
<line x1="1301.2" y1="892.3" x2="1310.2" y2="892.3" stroke="#8a8a8a" stroke-width="1.4" />
<line x1="1356.2" y1="902.8" x2="1356.2" y2="930.7" stroke="#8a8a8a" stroke-width="1.4" />
<line x1="1351.7" y1="902.8" x2="1360.7" y2="902.8" stroke="#8a8a8a" stroke-width="1.4" />
<line x1="1351.7" y1="930.7" x2="1360.7" y2="930.7" stroke="#8a8a8a" stroke-width="1.4" />
<path d="M935.8 622.97 L930.05 632.47 L941.55 632.47 Z" fill="#000"/>
<path d="M1044.9 800.37 L1039.15 809.87 L1050.65 809.87 Z" fill="#000"/>
<path d="M1098.4 839.27 L1092.65 848.77 L1104.15 848.77 Z" fill="#000"/>
<path d="M1153 820.97 L1147.25 830.47 L1158.75 830.47 Z" fill="#000"/>
<path d="M1205 853.67 L1199.25 863.17 L1210.75 863.17 Z" fill="#000"/>
<path d="M1255.1 885.17 L1249.35 894.67 L1260.85 894.67 Z" fill="#000"/>
<path d="M1305.7 860.77 L1299.95 870.27 L1311.45 870.27 Z" fill="#000"/>
<path d="M1356.2 909.57 L1350.45 919.07 L1361.95 919.07 Z" fill="#000"/>
<path d="M936.5 627.46 L937 630.22 L937.5 632.9 L938 635.49 L938.5 638 L939 640.44 L939.5 642.8 L940 645.11 L940.5 647.34 L941 649.52 L941.5 651.65 L942 653.72 L942.5 655.74 L943 657.71 L943.5 659.64 L944 661.52 L944.5 663.36 L945 665.16 L945.5 666.92 L946 668.65 L946.5 670.34 L947 671.99 L947.5 673.62 L948 675.21 L948.5 676.77 L949 678.3 L949.5 679.81 L950 681.28 L950.5 682.74 L951 684.16 L951.5 685.57 L952 686.95 L952.5 688.3 L953 689.64 L953.5 690.95 L954 692.24 L954.5 693.52 L955 694.77 L955.5 696.01 L956 697.22 L956.5 698.42 L957 699.6 L957.5 700.77 L958 701.92 L958.5 703.05 L959 704.17 L959.5 705.27 L960 706.36 L962 710.58 L964 714.59 L966 718.41 L968 722.07 L970 725.57 L972 728.93 L974 732.16 L976 735.27 L978 738.26 L980 741.15 L982 743.94 L984 746.64 L986 749.25 L988 751.79 L990 754.25 L992 756.64 L994 758.96 L996 761.21 L998 763.41 L1000 765.55 L1002 767.64 L1004 769.67 L1006 771.66 L1008 773.6 L1010 775.5 L1012 777.35 L1014 779.16 L1016 780.93 L1018 782.67 L1020 784.37 L1022 786.03 L1024 787.67 L1026 789.27 L1028 790.84 L1030 792.38 L1032 793.89 L1034 795.38 L1036 796.84 L1038 798.27 L1040 799.68 L1042 801.07 L1044 802.43 L1046 803.77 L1048 805.09 L1050 806.39 L1052 807.67 L1054 808.93 L1056 810.17 L1058 811.39 L1060 812.6 L1062 813.79 L1064 814.96 L1066 816.11 L1068 817.25 L1070 818.37 L1072 819.48 L1074 820.57 L1076 821.65 L1078 822.71 L1080 823.77 L1082 824.8 L1084 825.83 L1086 826.84 L1088 827.84 L1090 828.83 L1092 829.81 L1094 830.77 L1096 831.73 L1098 832.67 L1100 833.6 L1102 834.52 L1104 835.44 L1106 836.34 L1108 837.23 L1110 838.11 L1112 838.99 L1114 839.85 L1116 840.71 L1118 841.55 L1120 842.39 L1122 843.22 L1124 844.04 L1126 844.85 L1128 845.66 L1130 846.46 L1132 847.25 L1134 848.03 L1136 848.8 L1138 849.57 L1140 850.33 L1142 851.09 L1144 851.83 L1146 852.57 L1148 853.31 L1150 854.03 L1152 854.76 L1154 855.47 L1156 856.18 L1158 856.88 L1160 857.58 L1162 858.27 L1164 858.95 L1166 859.63 L1168 860.31 L1170 860.98 L1172 861.64 L1174 862.3 L1176 862.95 L1178 863.6 L1180 864.24 L1182 864.88 L1184 865.51 L1186 866.14 L1188 866.76 L1190 867.38 L1192 867.99 L1194 868.6 L1196 869.21 L1198 869.81 L1200 870.4 L1202 871 L1204 871.58 L1206 872.17 L1208 872.75 L1210 873.32 L1212 873.89 L1214 874.46 L1216 875.02 L1218 875.58 L1220 876.14 L1222 876.69 L1224 877.24 L1226 877.79 L1228 878.33 L1230 878.86 L1232 879.4 L1234 879.93 L1236 880.46 L1238 880.98 L1240 881.5 L1242 882.02 L1244 882.53 L1246 883.05 L1248 883.55 L1250 884.06 L1252 884.56 L1254 885.06 L1256 885.56 L1258 886.05 L1260 886.54 L1262 887.03 L1264 887.51 L1266 887.99 L1268 888.47 L1270 888.95 L1272 889.42 L1274 889.89 L1276 890.36 L1278 890.82 L1280 891.29 L1282 891.75 L1284 892.2 L1286 892.66 L1288 893.11 L1290 893.56 L1292 894.01 L1294 894.45 L1296 894.9 L1298 895.34 L1300 895.77 L1302 896.21 L1304 896.64 L1306 897.08 L1308 897.5 L1310 897.93 L1312 898.36 L1314 898.78 L1316 899.2 L1318 899.62 L1320 900.03 L1322 900.45 L1324 900.86 L1326 901.27 L1328 901.68 L1330 902.08 L1332 902.49 L1334 902.89 L1336 903.29 L1338 903.68 L1340 904.08 L1342 904.48 L1344 904.87 L1346 905.26 L1348 905.65 L1350 906.03 L1352 906.42 L1354 906.8 L1356 907.18 L1357.9 907.54" fill="none" stroke="#e31d24" stroke-width="5.2" stroke-linejoin="round" stroke-linecap="round" stroke-linecap="butt"/>
<rect x="896.3" y="575.3" width="505.7" height="406.2" fill="none" stroke="#000" stroke-width="3"/>
<line x1="896" y1="981.5" x2="896" y2="991" stroke="#000" stroke-width="3" />
<line x1="1012.77" y1="981.5" x2="1012.77" y2="991" stroke="#000" stroke-width="3" />
<line x1="1129.55" y1="981.5" x2="1129.55" y2="991" stroke="#000" stroke-width="3" />
<line x1="1246.32" y1="981.5" x2="1246.32" y2="991" stroke="#000" stroke-width="3" />
<line x1="1363.1" y1="981.5" x2="1363.1" y2="991" stroke="#000" stroke-width="3" />
<line x1="954.39" y1="981.5" x2="954.39" y2="987" stroke="#000" stroke-width="3" />
<line x1="1071.16" y1="981.5" x2="1071.16" y2="987" stroke="#000" stroke-width="3" />
<line x1="1187.94" y1="981.5" x2="1187.94" y2="987" stroke="#000" stroke-width="3" />
<line x1="1304.71" y1="981.5" x2="1304.71" y2="987" stroke="#000" stroke-width="3" />
<line x1="887.3" y1="942.7" x2="896.3" y2="942.7" stroke="#000" stroke-width="3" />
<line x1="887.3" y1="864.4" x2="896.3" y2="864.4" stroke="#000" stroke-width="3" />
<line x1="887.3" y1="786.1" x2="896.3" y2="786.1" stroke="#000" stroke-width="3" />
<line x1="887.3" y1="707.8" x2="896.3" y2="707.8" stroke="#000" stroke-width="3" />
<line x1="887.3" y1="629.5" x2="896.3" y2="629.5" stroke="#000" stroke-width="3" />
<line x1="890.8" y1="903.55" x2="896.3" y2="903.55" stroke="#000" stroke-width="3" />
<line x1="890.8" y1="825.25" x2="896.3" y2="825.25" stroke="#000" stroke-width="3" />
<line x1="890.8" y1="746.95" x2="896.3" y2="746.95" stroke="#000" stroke-width="3" />
<line x1="890.8" y1="668.65" x2="896.3" y2="668.65" stroke="#000" stroke-width="3" />
<line x1="890.8" y1="590.35" x2="896.3" y2="590.35" stroke="#000" stroke-width="3" />
<text transform="translate(855.55 1023.77) scale(0.9722 1)" font-size="32.96" fill="#1a1a1a" >1.332</text>
<text transform="translate(972.16 1023.77) scale(0.9722 1)" font-size="32.96" fill="#1a1a1a" >1.335</text>
<text transform="translate(1088.94 1023.77) scale(0.9722 1)" font-size="32.96" fill="#1a1a1a" >1.338</text>
<text transform="translate(1205.79 1023.77) scale(0.9722 1)" font-size="32.96" fill="#1a1a1a" >1.341</text>
<text transform="translate(1322.33 1023.77) scale(0.9722 1)" font-size="32.96" fill="#1a1a1a" >1.344</text>
<text transform="translate(817.91 951.47) scale(0.9901 1)" font-size="32.68" fill="#1a1a1a" >0.80</text>
<text transform="translate(818.07 873.17) scale(0.9901 1)" font-size="32.68" fill="#1a1a1a" >0.85</text>
<text transform="translate(817.91 794.87) scale(0.9901 1)" font-size="32.68" fill="#1a1a1a" >0.90</text>
<text transform="translate(818.07 716.57) scale(0.9901 1)" font-size="32.68" fill="#1a1a1a" >0.95</text>
<text transform="translate(817.91 638.27) scale(0.9901 1)" font-size="32.68" fill="#1a1a1a" >1.00</text>
<text transform="translate(754.26 567.6) scale(0.9664 1)" font-size="54.78" fill="#1a1a1a" >D</text>
<text transform="translate(1131.9 1068.2) scale(0.9413 1)" font-size="35.80" fill="#1a1a1a" >RI</text>
<text transform="translate(805.77 808.54) rotate(-90) scale(1.0014 1)" font-size="32.93" fill="#1a1a1a" >F/F</text>
<text transform="translate(818.39 758.88) rotate(-90) scale(1.0453 1)" font-size="21.13" fill="#1a1a1a" >0</text>
<clipPath id="clipE"><rect x="149.6" y="1097" width="508.69999999999993" height="408.5999999999999"/></clipPath>
<g clip-path="url(#clipE)">
<path d="M146 1226.31 L147 1225.31 L148 1224.33 L149 1223.35 L150 1222.38 L151 1221.42 L152 1220.46 L153 1219.52 L154 1218.58 L155 1217.64 L156 1216.72 L157 1215.8 L158 1214.89 L159 1213.99 L160 1213.1 L161 1212.21 L162 1211.33 L163 1210.46 L164 1209.6 L165 1208.74 L166 1207.9 L167 1207.05 L168 1206.22 L169 1205.39 L170 1204.58 L171 1203.76 L172 1202.96 L173 1202.16 L174 1201.38 L175 1200.59 L176 1199.82 L177 1199.05 L178 1198.29 L179 1197.54 L180 1196.8 L181 1196.06 L182 1195.33 L183 1194.61 L184 1193.89 L185 1193.18 L186 1192.48 L187 1191.79 L188 1191.1 L189 1190.42 L190 1189.75 L191 1189.08 L192 1188.42 L193 1187.77 L194 1187.13 L195 1186.49 L196 1185.86 L197 1185.24 L198 1184.62 L199 1184.01 L200 1183.41 L201 1182.82 L202 1182.23 L203 1181.65 L204 1181.07 L205 1180.51 L206 1179.95 L207 1179.39 L208 1178.85 L209 1178.31 L210 1177.78 L211 1177.25 L212 1176.73 L213 1176.22 L214 1175.71 L215 1175.22 L216 1174.73 L217 1174.24 L218 1173.76 L219 1173.29 L220 1172.83 L221 1172.37 L222 1171.92 L223 1171.47 L224 1171.04 L225 1170.61 L226 1170.18 L227 1169.76 L228 1169.35 L229 1168.95 L230 1168.55 L231 1168.16 L232 1167.78 L233 1167.4 L234 1167.03 L235 1166.66 L236 1166.3 L237 1165.95 L238 1165.6 L239 1165.27 L240 1164.93 L241 1164.61 L242 1164.29 L243 1163.97 L244 1163.67 L245 1163.37 L246 1163.07 L247 1162.78 L248 1162.5 L249 1162.23 L250 1161.96 L251 1161.7 L252 1161.44 L253 1161.19 L254 1160.95 L255 1160.71 L256 1160.48 L257 1160.25 L258 1160.03 L259 1159.82 L260 1159.61 L261 1159.41 L262 1159.22 L263 1159.03 L264 1158.85 L265 1158.67 L266 1158.5 L267 1158.34 L268 1158.18 L269 1158.03 L270 1157.88 L271 1157.74 L272 1157.61 L273 1157.48 L274 1157.36 L275 1157.24 L276 1157.13 L277 1157.03 L278 1156.93 L279 1156.84 L280 1156.75 L281 1156.67 L282 1156.6 L283 1156.53 L284 1156.46 L285 1156.41 L286 1156.36 L287 1156.31 L288 1156.27 L289 1156.24 L290 1156.21 L291 1156.19 L292 1156.17 L293 1156.16 L294 1156.15 L295 1156.15 L296 1156.16 L297 1156.17 L298 1156.19 L299 1156.21 L300 1156.24 L301 1156.27 L302 1156.31 L303 1156.36 L304 1156.41 L305 1156.46 L306 1156.52 L307 1156.59 L308 1156.66 L309 1156.74 L310 1156.82 L311 1156.91 L312 1157.01 L313 1157.11 L314 1157.21 L315 1157.32 L316 1157.44 L317 1157.56 L318 1157.69 L319 1157.82 L320 1157.95 L321 1158.1 L322 1158.24 L323 1158.4 L324 1158.55 L325 1158.72 L326 1158.89 L327 1159.06 L328 1159.24 L329 1159.42 L330 1159.61 L331 1159.81 L332 1160.01 L333 1160.21 L334 1160.42 L335 1160.64 L336 1160.86 L337 1161.08 L338 1161.31 L339 1161.55 L340 1161.79 L341 1162.03 L342 1162.28 L343 1162.54 L344 1162.8 L345 1163.06 L346 1163.33 L347 1163.61 L348 1163.89 L349 1164.17 L350 1164.46 L351 1164.76 L352 1165.06 L353 1165.36 L354 1165.67 L355 1165.98 L356 1166.3 L357 1166.63 L358 1166.95 L359 1167.29 L360 1167.62 L361 1167.97 L362 1168.31 L363 1168.67 L364 1169.02 L365 1169.38 L366 1169.75 L367 1170.12 L368 1170.49 L369 1170.87 L370 1171.26 L371 1171.65 L372 1172.04 L373 1172.44 L374 1172.84 L375 1173.25 L376 1173.66 L377 1174.08 L378 1174.5 L379 1174.92 L380 1175.35 L381 1175.78 L382 1176.22 L383 1176.67 L384 1177.11 L385 1177.56 L386 1178.02 L387 1178.48 L388 1178.94 L389 1179.41 L390 1179.89 L391 1180.36 L392 1180.85 L393 1181.33 L394 1181.82 L395 1182.32 L396 1182.81 L397 1183.32 L398 1183.82 L399 1184.34 L400 1184.85 L401 1185.37 L402 1185.89 L403 1186.42 L404 1186.95 L405 1187.49 L406 1188.03 L407 1188.57 L408 1189.12 L409 1189.67 L410 1190.23 L411 1190.79 L412 1191.36 L413 1191.92 L414 1192.5 L415 1193.07 L416 1193.65 L417 1194.24 L418 1194.82 L419 1195.42 L420 1196.01 L421 1196.61 L422 1197.21 L423 1197.82 L424 1198.43 L425 1199.05 L426 1199.67 L427 1200.29 L428 1200.91 L429 1201.54 L430 1202.18 L431 1202.82 L432 1203.46 L433 1204.1 L434 1204.75 L435 1205.4 L436 1206.06 L437 1206.72 L438 1207.38 L439 1208.05 L440 1208.72 L441 1209.39 L442 1210.07 L443 1210.75 L444 1211.43 L445 1212.12 L446 1212.81 L447 1213.51 L448 1214.21 L449 1214.91 L450 1215.62 L451 1216.33 L452 1217.04 L453 1217.76 L454 1218.48 L455 1219.21 L456 1219.94 L457 1220.67 L458 1221.4 L459 1222.14 L460 1222.89 L461 1223.63 L462 1224.39 L463 1225.14 L464 1225.9 L465 1226.66 L466 1227.43 L467 1228.2 L468 1228.97 L469 1229.75 L470 1230.53 L471 1231.32 L472 1232.11 L473 1232.9 L474 1233.7 L475 1234.5 L476 1235.3 L477 1236.11 L478 1236.92 L479 1237.74 L480 1238.56 L481 1239.39 L482 1240.21 L483 1241.05 L484 1241.88 L485 1242.73 L486 1243.57 L487 1244.42 L488 1245.27 L489 1246.13 L490 1247 L491 1247.86 L492 1248.74 L493 1249.61 L494 1250.5 L495 1251.38 L496 1252.28 L497 1253.17 L498 1254.08 L499 1254.98 L500 1255.9 L501 1256.82 L502 1257.74 L503 1258.67 L504 1259.6 L505 1260.55 L506 1261.49 L507 1262.44 L508 1263.4 L509 1264.37 L510 1265.34 L511 1266.31 L512 1267.3 L513 1268.28 L514 1269.28 L515 1270.28 L516 1271.29 L517 1272.3 L518 1273.32 L519 1274.35 L520 1275.39 L521 1276.43 L522 1277.47 L523 1278.53 L524 1279.59 L525 1280.66 L526 1281.74 L527 1282.82 L528 1283.91 L529 1285.01 L530 1286.12 L531 1287.23 L532 1288.35 L533 1289.48 L534 1290.61 L535 1291.76 L536 1292.91 L537 1294.06 L538 1295.23 L539 1296.4 L540 1297.58 L541 1298.77 L542 1299.96 L543 1301.16 L544 1302.37 L545 1303.59 L546 1304.81 L547 1306.04 L548 1307.28 L549 1308.52 L550 1309.77 L551 1311.03 L552 1312.3 L553 1313.57 L554 1314.85 L555 1316.13 L556 1317.42 L557 1318.72 L558 1320.03 L559 1321.34 L560 1322.66 L561 1323.99 L562 1325.32 L563 1326.66 L564 1328.01 L565 1329.36 L566 1330.72 L567 1332.09 L568 1333.46 L569 1334.84 L570 1336.23 L571 1337.62 L572 1339.02 L573 1340.42 L574 1341.84 L575 1343.25 L576 1344.68 L577 1346.11 L578 1347.55 L579 1348.99 L580 1350.44 L581 1351.9 L582 1353.36 L583 1354.83 L584 1356.3 L585 1357.78 L586 1359.27 L587 1360.76 L588 1362.26 L589 1363.77 L590 1365.28 L591 1366.8 L592 1368.32 L593 1369.85 L594 1371.39 L595 1372.93 L596 1374.47 L597 1376.03 L598 1377.58 L599 1379.15 L600 1380.72 L601 1382.29 L602 1383.88 L603 1385.46 L604 1387.06 L605 1388.65 L606 1390.26 L607 1391.87 L608 1393.48 L609 1395.11 L610 1396.73 L611 1398.36 L612 1400 L613 1401.64 L614 1403.29 L615 1404.95 L616 1406.6 L617 1408.27 L618 1409.94 L619 1411.61 L620 1413.29 L621 1414.98 L622 1416.67 L623 1418.37 L624 1420.07 L625 1421.77 L626 1423.48 L627 1425.2 L628 1426.92 L629 1428.65 L630 1430.38 L631 1432.12 L632 1433.86 L633 1435.61 L634 1437.36 L635 1439.11 L636 1440.87 L637 1442.64 L638 1444.41 L639 1446.19 L640 1447.97 L641 1449.75 L642 1451.54 L643 1453.34 L644 1455.14 L645 1456.94 L646 1458.75 L647 1460.56 L648 1462.38 L649 1464.2 L650 1466.03 L651 1467.86 L652 1469.69 L653 1471.53 L654 1473.38 L655 1475.23 L656 1477.08 L657 1478.94 L658 1480.8 L659 1482.67 L660 1484.54 L661 1486.41 L662 1488.29" fill="none" stroke="#111" stroke-width="3.0" stroke-linejoin="round" stroke-linecap="round" stroke-dasharray="8.5 4.5" stroke-linecap="butt"/>
<path d="M146 1236.35 L147 1235.36 L148 1234.38 L149 1233.4 L150 1232.44 L151 1231.47 L152 1230.52 L153 1229.57 L154 1228.63 L155 1227.69 L156 1226.76 L157 1225.84 L158 1224.93 L159 1224.02 L160 1223.12 L161 1222.22 L162 1221.33 L163 1220.45 L164 1219.58 L165 1218.71 L166 1217.85 L167 1216.99 L168 1216.14 L169 1215.3 L170 1214.46 L171 1213.64 L172 1212.81 L173 1212 L174 1211.19 L175 1210.38 L176 1209.59 L177 1208.8 L178 1208.01 L179 1207.24 L180 1206.47 L181 1205.7 L182 1204.95 L183 1204.19 L184 1203.45 L185 1202.71 L186 1201.98 L187 1201.25 L188 1200.53 L189 1199.82 L190 1199.12 L191 1198.42 L192 1197.72 L193 1197.03 L194 1196.35 L195 1195.68 L196 1195.01 L197 1194.35 L198 1193.69 L199 1193.04 L200 1192.4 L201 1191.76 L202 1191.13 L203 1190.51 L204 1189.89 L205 1189.28 L206 1188.67 L207 1188.07 L208 1187.48 L209 1186.89 L210 1186.31 L211 1185.73 L212 1185.17 L213 1184.6 L214 1184.05 L215 1183.5 L216 1182.95 L217 1182.41 L218 1181.88 L219 1181.35 L220 1180.83 L221 1180.32 L222 1179.81 L223 1179.31 L224 1178.81 L225 1178.32 L226 1177.84 L227 1177.36 L228 1176.89 L229 1176.43 L230 1175.97 L231 1175.51 L232 1175.06 L233 1174.62 L234 1174.18 L235 1173.75 L236 1173.33 L237 1172.91 L238 1172.5 L239 1172.09 L240 1171.69 L241 1171.3 L242 1170.91 L243 1170.52 L244 1170.15 L245 1169.77 L246 1169.41 L247 1169.05 L248 1168.69 L249 1168.35 L250 1168 L251 1167.67 L252 1167.33 L253 1167.01 L254 1166.69 L255 1166.37 L256 1166.07 L257 1165.76 L258 1165.47 L259 1165.18 L260 1164.89 L261 1164.61 L262 1164.34 L263 1164.07 L264 1163.8 L265 1163.55 L266 1163.29 L267 1163.05 L268 1162.81 L269 1162.57 L270 1162.34 L271 1162.12 L272 1161.9 L273 1161.69 L274 1161.48 L275 1161.28 L276 1161.08 L277 1160.89 L278 1160.7 L279 1160.52 L280 1160.35 L281 1160.18 L282 1160.02 L283 1159.86 L284 1159.71 L285 1159.56 L286 1159.42 L287 1159.28 L288 1159.15 L289 1159.02 L290 1158.9 L291 1158.79 L292 1158.68 L293 1158.57 L294 1158.47 L295 1158.38 L296 1158.29 L297 1158.21 L298 1158.13 L299 1158.06 L300 1157.99 L301 1157.93 L302 1157.87 L303 1157.82 L304 1157.77 L305 1157.73 L306 1157.7 L307 1157.67 L308 1157.64 L309 1157.62 L310 1157.6 L311 1157.59 L312 1157.59 L313 1157.59 L314 1157.59 L315 1157.6 L316 1157.62 L317 1157.64 L318 1157.67 L319 1157.7 L320 1157.73 L321 1157.77 L322 1157.82 L323 1157.87 L324 1157.93 L325 1157.99 L326 1158.05 L327 1158.12 L328 1158.2 L329 1158.28 L330 1158.37 L331 1158.46 L332 1158.55 L333 1158.65 L334 1158.76 L335 1158.87 L336 1158.98 L337 1159.11 L338 1159.23 L339 1159.36 L340 1159.5 L341 1159.63 L342 1159.78 L343 1159.93 L344 1160.08 L345 1160.24 L346 1160.41 L347 1160.57 L348 1160.75 L349 1160.93 L350 1161.11 L351 1161.3 L352 1161.49 L353 1161.69 L354 1161.89 L355 1162.1 L356 1162.31 L357 1162.52 L358 1162.74 L359 1162.97 L360 1163.2 L361 1163.43 L362 1163.67 L363 1163.92 L364 1164.16 L365 1164.42 L366 1164.68 L367 1164.94 L368 1165.21 L369 1165.48 L370 1165.75 L371 1166.03 L372 1166.32 L373 1166.61 L374 1166.9 L375 1167.2 L376 1167.5 L377 1167.81 L378 1168.12 L379 1168.44 L380 1168.76 L381 1169.09 L382 1169.42 L383 1169.75 L384 1170.09 L385 1170.43 L386 1170.78 L387 1171.13 L388 1171.49 L389 1171.85 L390 1172.22 L391 1172.59 L392 1172.96 L393 1173.34 L394 1173.72 L395 1174.11 L396 1174.5 L397 1174.89 L398 1175.29 L399 1175.7 L400 1176.11 L401 1176.52 L402 1176.94 L403 1177.36 L404 1177.78 L405 1178.21 L406 1178.64 L407 1179.08 L408 1179.52 L409 1179.97 L410 1180.42 L411 1180.88 L412 1181.34 L413 1181.8 L414 1182.27 L415 1182.74 L416 1183.22 L417 1183.7 L418 1184.19 L419 1184.68 L420 1185.17 L421 1185.67 L422 1186.17 L423 1186.68 L424 1187.19 L425 1187.71 L426 1188.23 L427 1188.76 L428 1189.29 L429 1189.82 L430 1190.36 L431 1190.9 L432 1191.45 L433 1192 L434 1192.56 L435 1193.12 L436 1193.69 L437 1194.26 L438 1194.84 L439 1195.42 L440 1196 L441 1196.59 L442 1197.19 L443 1197.78 L444 1198.39 L445 1199 L446 1199.61 L447 1200.23 L448 1200.85 L449 1201.47 L450 1202.11 L451 1202.74 L452 1203.38 L453 1204.03 L454 1204.68 L455 1205.33 L456 1205.99 L457 1206.66 L458 1207.33 L459 1208 L460 1208.68 L461 1209.37 L462 1210.05 L463 1210.75 L464 1211.45 L465 1212.15 L466 1212.86 L467 1213.57 L468 1214.29 L469 1215.01 L470 1215.74 L471 1216.47 L472 1217.21 L473 1217.95 L474 1218.7 L475 1219.45 L476 1220.21 L477 1220.97 L478 1221.74 L479 1222.51 L480 1223.29 L481 1224.07 L482 1224.86 L483 1225.65 L484 1226.45 L485 1227.25 L486 1228.06 L487 1228.87 L488 1229.69 L489 1230.51 L490 1231.34 L491 1232.18 L492 1233.01 L493 1233.86 L494 1234.71 L495 1235.56 L496 1236.42 L497 1237.28 L498 1238.15 L499 1239.03 L500 1239.91 L501 1240.79 L502 1241.68 L503 1242.58 L504 1243.48 L505 1244.39 L506 1245.3 L507 1246.21 L508 1247.14 L509 1248.06 L510 1249 L511 1249.93 L512 1250.88 L513 1251.82 L514 1252.78 L515 1253.74 L516 1254.7 L517 1255.67 L518 1256.65 L519 1257.63 L520 1258.62 L521 1259.61 L522 1260.6 L523 1261.61 L524 1262.62 L525 1263.63 L526 1264.65 L527 1265.67 L528 1266.7 L529 1267.74 L530 1268.78 L531 1269.83 L532 1270.88 L533 1271.94 L534 1273 L535 1274.07 L536 1275.14 L537 1276.22 L538 1277.31 L539 1278.4 L540 1279.5 L541 1280.6 L542 1281.71 L543 1282.82 L544 1283.94 L545 1285.06 L546 1286.19 L547 1287.33 L548 1288.47 L549 1289.62 L550 1290.77 L551 1291.93 L552 1293.1 L553 1294.27 L554 1295.44 L555 1296.63 L556 1297.81 L557 1299.01 L558 1300.21 L559 1301.41 L560 1302.62 L561 1303.84 L562 1305.06 L563 1306.29 L564 1307.53 L565 1308.77 L566 1310.01 L567 1311.27 L568 1312.52 L569 1313.79 L570 1315.06 L571 1316.33 L572 1317.62 L573 1318.9 L574 1320.2 L575 1321.5 L576 1322.8 L577 1324.11 L578 1325.43 L579 1326.75 L580 1328.08 L581 1329.41 L582 1330.75 L583 1332.1 L584 1333.45 L585 1334.81 L586 1336.17 L587 1337.54 L588 1338.91 L589 1340.29 L590 1341.68 L591 1343.07 L592 1344.46 L593 1345.86 L594 1347.27 L595 1348.69 L596 1350.1 L597 1351.53 L598 1352.96 L599 1354.39 L600 1355.83 L601 1357.28 L602 1358.73 L603 1360.19 L604 1361.65 L605 1363.12 L606 1364.59 L607 1366.07 L608 1367.55 L609 1369.04 L610 1370.54 L611 1372.04 L612 1373.54 L613 1375.05 L614 1376.57 L615 1378.09 L616 1379.62 L617 1381.15 L618 1382.69 L619 1384.23 L620 1385.78 L621 1387.33 L622 1388.89 L623 1390.45 L624 1392.02 L625 1393.59 L626 1395.17 L627 1396.75 L628 1398.34 L629 1399.93 L630 1401.53 L631 1403.13 L632 1404.74 L633 1406.35 L634 1407.97 L635 1409.59 L636 1411.22 L637 1412.85 L638 1414.48 L639 1416.13 L640 1417.77 L641 1419.42 L642 1421.08 L643 1422.74 L644 1424.4 L645 1426.07 L646 1427.75 L647 1429.43 L648 1431.11 L649 1432.8 L650 1434.49 L651 1436.19 L652 1437.89 L653 1439.6 L654 1441.31 L655 1443.02 L656 1444.74 L657 1446.47 L658 1448.2 L659 1449.93 L660 1451.67 L661 1453.41 L662 1455.15" fill="none" stroke="#7cc242" stroke-width="3.0" stroke-linejoin="round" stroke-linecap="round" stroke-dasharray="8.5 4.5" stroke-linecap="butt"/>
<path d="M146 1247.97 L147 1247.03 L148 1246.1 L149 1245.17 L150 1244.25 L151 1243.33 L152 1242.42 L153 1241.51 L154 1240.61 L155 1239.71 L156 1238.82 L157 1237.93 L158 1237.05 L159 1236.17 L160 1235.29 L161 1234.42 L162 1233.56 L163 1232.7 L164 1231.84 L165 1230.99 L166 1230.15 L167 1229.31 L168 1228.47 L169 1227.64 L170 1226.82 L171 1226 L172 1225.18 L173 1224.37 L174 1223.56 L175 1222.76 L176 1221.96 L177 1221.17 L178 1220.38 L179 1219.6 L180 1218.82 L181 1218.05 L182 1217.28 L183 1216.52 L184 1215.76 L185 1215.01 L186 1214.26 L187 1213.52 L188 1212.78 L189 1212.04 L190 1211.32 L191 1210.59 L192 1209.87 L193 1209.16 L194 1208.45 L195 1207.74 L196 1207.04 L197 1206.35 L198 1205.66 L199 1204.97 L200 1204.29 L201 1203.62 L202 1202.95 L203 1202.28 L204 1201.62 L205 1200.97 L206 1200.31 L207 1199.67 L208 1199.03 L209 1198.39 L210 1197.76 L211 1197.13 L212 1196.51 L213 1195.89 L214 1195.28 L215 1194.68 L216 1194.07 L217 1193.48 L218 1192.88 L219 1192.3 L220 1191.71 L221 1191.14 L222 1190.56 L223 1190 L224 1189.43 L225 1188.88 L226 1188.32 L227 1187.77 L228 1187.23 L229 1186.69 L230 1186.16 L231 1185.63 L232 1185.11 L233 1184.59 L234 1184.08 L235 1183.57 L236 1183.06 L237 1182.56 L238 1182.07 L239 1181.58 L240 1181.1 L241 1180.62 L242 1180.14 L243 1179.67 L244 1179.21 L245 1178.75 L246 1178.3 L247 1177.85 L248 1177.4 L249 1176.96 L250 1176.53 L251 1176.1 L252 1175.67 L253 1175.25 L254 1174.84 L255 1174.43 L256 1174.02 L257 1173.62 L258 1173.23 L259 1172.84 L260 1172.45 L261 1172.07 L262 1171.7 L263 1171.33 L264 1170.96 L265 1170.6 L266 1170.25 L267 1169.9 L268 1169.55 L269 1169.21 L270 1168.88 L271 1168.55 L272 1168.22 L273 1167.9 L274 1167.59 L275 1167.28 L276 1166.97 L277 1166.67 L278 1166.37 L279 1166.08 L280 1165.8 L281 1165.52 L282 1165.24 L283 1164.97 L284 1164.71 L285 1164.45 L286 1164.19 L287 1163.94 L288 1163.69 L289 1163.45 L290 1163.22 L291 1162.99 L292 1162.76 L293 1162.54 L294 1162.33 L295 1162.12 L296 1161.91 L297 1161.71 L298 1161.51 L299 1161.32 L300 1161.14 L301 1160.96 L302 1160.78 L303 1160.61 L304 1160.45 L305 1160.29 L306 1160.13 L307 1159.98 L308 1159.84 L309 1159.7 L310 1159.56 L311 1159.43 L312 1159.31 L313 1159.19 L314 1159.07 L315 1158.96 L316 1158.86 L317 1158.76 L318 1158.66 L319 1158.57 L320 1158.49 L321 1158.41 L322 1158.34 L323 1158.27 L324 1158.2 L325 1158.14 L326 1158.09 L327 1158.04 L328 1158 L329 1157.96 L330 1157.92 L331 1157.89 L332 1157.87 L333 1157.85 L334 1157.84 L335 1157.83 L336 1157.83 L337 1157.83 L338 1157.83 L339 1157.85 L340 1157.86 L341 1157.88 L342 1157.91 L343 1157.94 L344 1157.98 L345 1158.02 L346 1158.07 L347 1158.12 L348 1158.18 L349 1158.24 L350 1158.31 L351 1158.38 L352 1158.46 L353 1158.54 L354 1158.63 L355 1158.73 L356 1158.82 L357 1158.93 L358 1159.04 L359 1159.15 L360 1159.27 L361 1159.39 L362 1159.52 L363 1159.66 L364 1159.8 L365 1159.94 L366 1160.09 L367 1160.24 L368 1160.4 L369 1160.57 L370 1160.74 L371 1160.91 L372 1161.09 L373 1161.28 L374 1161.47 L375 1161.67 L376 1161.87 L377 1162.07 L378 1162.28 L379 1162.5 L380 1162.72 L381 1162.95 L382 1163.18 L383 1163.42 L384 1163.66 L385 1163.9 L386 1164.16 L387 1164.41 L388 1164.68 L389 1164.94 L390 1165.22 L391 1165.49 L392 1165.78 L393 1166.07 L394 1166.36 L395 1166.66 L396 1166.96 L397 1167.27 L398 1167.58 L399 1167.9 L400 1168.23 L401 1168.56 L402 1168.89 L403 1169.23 L404 1169.58 L405 1169.93 L406 1170.28 L407 1170.64 L408 1171.01 L409 1171.38 L410 1171.76 L411 1172.14 L412 1172.53 L413 1172.92 L414 1173.31 L415 1173.72 L416 1174.12 L417 1174.54 L418 1174.95 L419 1175.38 L420 1175.81 L421 1176.24 L422 1176.68 L423 1177.12 L424 1177.57 L425 1178.02 L426 1178.48 L427 1178.95 L428 1179.42 L429 1179.89 L430 1180.37 L431 1180.86 L432 1181.35 L433 1181.85 L434 1182.35 L435 1182.85 L436 1183.36 L437 1183.88 L438 1184.4 L439 1184.93 L440 1185.46 L441 1186 L442 1186.54 L443 1187.09 L444 1187.64 L445 1188.2 L446 1188.77 L447 1189.33 L448 1189.91 L449 1190.48 L450 1191.07 L451 1191.65 L452 1192.25 L453 1192.84 L454 1193.45 L455 1194.05 L456 1194.66 L457 1195.28 L458 1195.9 L459 1196.52 L460 1197.15 L461 1197.78 L462 1198.42 L463 1199.06 L464 1199.71 L465 1200.35 L466 1201.01 L467 1201.67 L468 1202.33 L469 1202.99 L470 1203.66 L471 1204.34 L472 1205.01 L473 1205.69 L474 1206.38 L475 1207.07 L476 1207.76 L477 1208.45 L478 1209.15 L479 1209.85 L480 1210.56 L481 1211.27 L482 1211.98 L483 1212.7 L484 1213.42 L485 1214.14 L486 1214.86 L487 1215.59 L488 1216.32 L489 1217.06 L490 1217.8 L491 1218.54 L492 1219.28 L493 1220.03 L494 1220.77 L495 1221.53 L496 1222.28 L497 1223.04 L498 1223.8 L499 1224.56 L500 1225.32 L501 1226.09 L502 1226.86 L503 1227.63 L504 1228.41 L505 1229.18 L506 1229.96 L507 1230.74 L508 1231.53 L509 1232.31 L510 1233.1 L511 1233.89 L512 1234.68 L513 1235.47 L514 1236.27 L515 1237.07 L516 1237.86 L517 1238.67 L518 1239.47 L519 1240.27 L520 1241.08 L521 1241.88 L522 1242.69 L523 1243.5 L524 1244.31 L525 1245.13 L526 1245.94 L527 1246.76 L528 1247.58 L529 1248.4 L530 1249.23 L531 1250.06 L532 1250.9 L533 1251.74 L534 1252.59 L535 1253.44 L536 1254.3 L537 1255.17 L538 1256.04 L539 1256.92 L540 1257.8 L541 1258.69 L542 1259.58 L543 1260.48 L544 1261.39 L545 1262.3 L546 1263.22 L547 1264.15 L548 1265.08 L549 1266.02 L550 1266.96 L551 1267.91 L552 1268.87 L553 1269.83 L554 1270.8 L555 1271.78 L556 1272.76 L557 1273.75 L558 1274.75 L559 1275.76 L560 1276.77 L561 1277.79 L562 1278.82 L563 1279.85 L564 1280.89 L565 1281.94 L566 1283 L567 1284.06 L568 1285.13 L569 1286.21 L570 1287.3 L571 1288.4 L572 1289.5 L573 1290.61 L574 1291.73 L575 1292.86 L576 1294 L577 1295.14 L578 1296.29 L579 1297.45 L580 1298.62 L581 1299.8 L582 1300.99 L583 1302.18 L584 1303.39 L585 1304.6 L586 1305.82 L587 1307.05 L588 1308.29 L589 1309.54 L590 1310.8 L591 1312.07 L592 1313.35 L593 1314.63 L594 1315.93 L595 1317.23 L596 1318.55 L597 1319.87 L598 1321.21 L599 1322.55 L600 1323.91 L601 1325.27 L602 1326.64 L603 1328.03 L604 1329.42 L605 1330.83 L606 1332.24 L607 1333.67 L608 1335.1 L609 1336.55 L610 1338.01 L611 1339.47 L612 1340.95 L613 1342.44 L614 1343.94 L615 1345.45 L616 1346.97 L617 1348.5 L618 1350.05 L619 1351.6 L620 1353.17 L621 1354.75 L622 1356.33 L623 1357.93 L624 1359.55 L625 1361.17 L626 1362.8 L627 1364.45 L628 1366.11 L629 1367.78 L630 1369.46 L631 1371.16 L632 1372.86 L633 1374.58 L634 1376.31 L635 1378.05 L636 1379.81 L637 1381.58 L638 1383.36 L639 1385.15 L640 1386.96 L641 1388.77 L642 1390.6 L643 1392.45 L644 1394.3 L645 1396.17 L646 1398.06 L647 1399.95 L648 1401.86 L649 1403.78 L650 1405.72 L651 1407.67 L652 1409.63 L653 1411.6 L654 1413.59 L655 1415.6 L656 1417.61 L657 1419.64 L658 1421.69 L659 1423.75 L660 1425.82 L661 1427.9 L662 1430" fill="none" stroke="#2255b8" stroke-width="3.0" stroke-linejoin="round" stroke-linecap="round" stroke-dasharray="8.5 4.5" stroke-linecap="butt"/>
<path d="M158 1515.74 L159 1513.84 L160 1511.91 L161 1509.96 L162 1507.98 L163 1505.98 L164 1503.96 L165 1501.92 L166 1499.85 L167 1497.76 L168 1495.66 L169 1493.54 L170 1491.39 L171 1489.24 L172 1487.06 L173 1484.87 L174 1482.67 L175 1480.45 L176 1478.22 L177 1475.97 L178 1473.71 L179 1471.45 L180 1469.17 L181 1466.88 L182 1464.58 L183 1462.28 L184 1459.96 L185 1457.64 L186 1455.31 L187 1452.98 L188 1450.64 L189 1448.29 L190 1445.94 L191 1443.59 L192 1441.23 L193 1438.87 L194 1436.51 L195 1434.15 L196 1431.78 L197 1429.41 L198 1427.05 L199 1424.68 L200 1422.31 L201 1419.94 L202 1417.58 L203 1415.22 L204 1412.86 L205 1410.5 L206 1408.14 L207 1405.79 L208 1403.44 L209 1401.1 L210 1398.76 L211 1396.42 L212 1394.09 L213 1391.77 L214 1389.45 L215 1387.14 L216 1384.83 L217 1382.53 L218 1380.24 L219 1377.95 L220 1375.68 L221 1373.41 L222 1371.14 L223 1368.89 L224 1366.65 L225 1364.41 L226 1362.18 L227 1359.97 L228 1357.76 L229 1355.56 L230 1353.37 L231 1351.2 L232 1349.03 L233 1346.87 L234 1344.72 L235 1342.59 L236 1340.47 L237 1338.35 L238 1336.25 L239 1334.16 L240 1332.08 L241 1330.02 L242 1327.96 L243 1325.92 L244 1323.89 L245 1321.87 L246 1319.87 L247 1317.87 L248 1315.89 L249 1313.93 L250 1311.97 L251 1310.03 L252 1308.1 L253 1306.19 L254 1304.28 L255 1302.4 L256 1300.52 L257 1298.66 L258 1296.81 L259 1294.98 L260 1293.15 L261 1291.35 L262 1289.55 L263 1287.77 L264 1286.01 L265 1284.25 L266 1282.51 L267 1280.79 L268 1279.08 L269 1277.38 L270 1275.7 L271 1274.03 L272 1272.37 L273 1270.73 L274 1269.1 L275 1267.49 L276 1265.89 L277 1264.3 L278 1262.73 L279 1261.17 L280 1259.62 L281 1258.09 L282 1256.57 L283 1255.07 L284 1253.58 L285 1252.1 L286 1250.64 L287 1249.19 L288 1247.76 L289 1246.34 L290 1244.93 L291 1243.53 L292 1242.15 L293 1240.79 L294 1239.43 L295 1238.09 L296 1236.76 L297 1235.45 L298 1234.15 L299 1232.86 L300 1231.58 L301 1230.32 L302 1229.07 L303 1227.84 L304 1226.61 L305 1225.4 L306 1224.2 L307 1223.02 L308 1221.85 L309 1220.69 L310 1219.54 L311 1218.4 L312 1217.28 L313 1216.17 L314 1215.07 L315 1213.98 L316 1212.91 L317 1211.84 L318 1210.79 L319 1209.75 L320 1208.73 L321 1207.71 L322 1206.71 L323 1205.72 L324 1204.73 L325 1203.76 L326 1202.81 L327 1201.86 L328 1200.92 L329 1200 L330 1199.08 L331 1198.18 L332 1197.29 L333 1196.41 L334 1195.54 L335 1194.68 L336 1193.83 L337 1192.99 L338 1192.16 L339 1191.34 L340 1190.53 L341 1189.74 L342 1188.95 L343 1188.17 L344 1187.4 L345 1186.65 L346 1185.9 L347 1185.16 L348 1184.43 L349 1183.71 L350 1183 L351 1182.31 L352 1181.62 L353 1180.94 L354 1180.26 L355 1179.6 L356 1178.95 L357 1178.31 L358 1177.67 L359 1177.05 L360 1176.43 L361 1175.82 L362 1175.23 L363 1174.64 L364 1174.06 L365 1173.48 L366 1172.92 L367 1172.37 L368 1171.82 L369 1171.28 L370 1170.75 L371 1170.23 L372 1169.72 L373 1169.22 L374 1168.72 L375 1168.24 L376 1167.76 L377 1167.29 L378 1166.83 L379 1166.37 L380 1165.93 L381 1165.49 L382 1165.06 L383 1164.64 L384 1164.23 L385 1163.82 L386 1163.42 L387 1163.03 L388 1162.65 L389 1162.28 L390 1161.91 L391 1161.56 L392 1161.21 L393 1160.87 L394 1160.53 L395 1160.21 L396 1159.89 L397 1159.58 L398 1159.28 L399 1158.98 L400 1158.7 L401 1158.42 L402 1158.15 L403 1157.89 L404 1157.63 L405 1157.39 L406 1157.15 L407 1156.92 L408 1156.7 L409 1156.48 L410 1156.27 L411 1156.08 L412 1155.89 L413 1155.7 L414 1155.53 L415 1155.36 L416 1155.21 L417 1155.06 L418 1154.91 L419 1154.78 L420 1154.66 L421 1154.54 L422 1154.43 L423 1154.33 L424 1154.24 L425 1154.16 L426 1154.08 L427 1154.02 L428 1153.96 L429 1153.91 L430 1153.87 L431 1153.84 L432 1153.82 L433 1153.81 L434 1153.8 L435 1153.81 L436 1153.82 L437 1153.85 L438 1153.88 L439 1153.92 L440 1153.97 L441 1154.03 L442 1154.1 L443 1154.18 L444 1154.27 L445 1154.37 L446 1154.48 L447 1154.6 L448 1154.73 L449 1154.86 L450 1155.01 L451 1155.17 L452 1155.34 L453 1155.52 L454 1155.71 L455 1155.91 L456 1156.12 L457 1156.34 L458 1156.57 L459 1156.81 L460 1157.07 L461 1157.33 L462 1157.61 L463 1157.89 L464 1158.19 L465 1158.5 L466 1158.82 L467 1159.15 L468 1159.5 L469 1159.85 L470 1160.22 L471 1160.6 L472 1160.99 L473 1161.4 L474 1161.81 L475 1162.24 L476 1162.68 L477 1163.14 L478 1163.6 L479 1164.08 L480 1164.57 L481 1165.08 L482 1165.6 L483 1166.13 L484 1166.67 L485 1167.23 L486 1167.8 L487 1168.39 L488 1168.98 L489 1169.6 L490 1170.22 L491 1170.86 L492 1171.52 L493 1172.19 L494 1172.87 L495 1173.57 L496 1174.28 L497 1175 L498 1175.74 L499 1176.5 L500 1177.27 L501 1178.06 L502 1178.86 L503 1179.67 L504 1180.5 L505 1181.35 L506 1182.21 L507 1183.09 L508 1183.98 L509 1184.89 L510 1185.82 L511 1186.76 L512 1187.72 L513 1188.69 L514 1189.68 L515 1190.68 L516 1191.71 L517 1192.74 L518 1193.8 L519 1194.87 L520 1195.96 L521 1197.06 L522 1198.19 L523 1199.32 L524 1200.48 L525 1201.65 L526 1202.84 L527 1204.05 L528 1205.28 L529 1206.52 L530 1207.78 L531 1209.05 L532 1210.35 L533 1211.66 L534 1212.99 L535 1214.34 L536 1215.7 L537 1217.08 L538 1218.48 L539 1219.9 L540 1221.34 L541 1222.79 L542 1224.26 L543 1225.75 L544 1227.26 L545 1228.78 L546 1230.33 L547 1231.89 L548 1233.47 L549 1235.06 L550 1236.68 L551 1238.31 L552 1239.96 L553 1241.63 L554 1243.32 L555 1245.02 L556 1246.75 L557 1248.49 L558 1250.25 L559 1252.02 L560 1253.82 L561 1255.63 L562 1257.46 L563 1259.3 L564 1261.17 L565 1263.05 L566 1264.95 L567 1266.87 L568 1268.8 L569 1270.75 L570 1272.72 L571 1274.71 L572 1276.71 L573 1278.73 L574 1280.76 L575 1282.82 L576 1284.88 L577 1286.97 L578 1289.07 L579 1291.19 L580 1293.32 L581 1295.47 L582 1297.63 L583 1299.81 L584 1302.01 L585 1304.22 L586 1306.44 L587 1308.68 L588 1310.94 L589 1313.21 L590 1315.49 L591 1317.79 L592 1320.1 L593 1322.42 L594 1324.76 L595 1327.11 L596 1329.47 L597 1331.84 L598 1334.23 L599 1336.63 L600 1339.04 L601 1341.46 L602 1343.89 L603 1346.34 L604 1348.79 L605 1351.25 L606 1353.73 L607 1356.21 L608 1358.7 L609 1361.2 L610 1363.71 L611 1366.22 L612 1368.75 L613 1371.28 L614 1373.82 L615 1376.36 L616 1378.91 L617 1381.46 L618 1384.02 L619 1386.59 L620 1389.15 L621 1391.73 L622 1394.3 L623 1396.88 L624 1399.46 L625 1402.04 L626 1404.62 L627 1407.2 L628 1409.78 L629 1412.36 L630 1414.94 L631 1417.52 L632 1420.09 L633 1422.67 L634 1425.23 L635 1427.8 L636 1430.36 L637 1432.91 L638 1435.46 L639 1438 L640 1440.53 L641 1443.06 L642 1445.57 L643 1448.08 L644 1450.57 L645 1453.05 L646 1455.53 L647 1457.98 L648 1460.43 L649 1462.86 L650 1465.27 L651 1467.67 L652 1470.05 L653 1472.42 L654 1474.76 L655 1477.09 L656 1479.39 L657 1481.67 L658 1483.93 L659 1486.17" fill="none" stroke="#e31d24" stroke-width="5.2" stroke-linejoin="round" stroke-linecap="round" stroke-linecap="butt"/>
</g>
<line x1="149.6" y1="1097" x2="661.7" y2="1097" stroke="#000" stroke-width="3" />
<line x1="149.6" y1="1095.5" x2="149.6" y2="1507.1" stroke="#000" stroke-width="3" />
<line x1="148.1" y1="1505.6" x2="658.3" y2="1505.6" stroke="#000" stroke-width="3" />
<line x1="658.3" y1="1097" x2="658.3" y2="1507.1" stroke="#e31d24" stroke-width="2.8" />
<line x1="183.9" y1="1505.6" x2="183.9" y2="1515.6" stroke="#000" stroke-width="3" />
<line x1="318.9" y1="1505.6" x2="318.9" y2="1515.6" stroke="#000" stroke-width="3" />
<line x1="453.9" y1="1505.6" x2="453.9" y2="1515.6" stroke="#000" stroke-width="3" />
<line x1="588.9" y1="1505.6" x2="588.9" y2="1515.6" stroke="#000" stroke-width="3" />
<line x1="251.4" y1="1505.6" x2="251.4" y2="1511.6" stroke="#000" stroke-width="3" />
<line x1="386.4" y1="1505.6" x2="386.4" y2="1511.6" stroke="#000" stroke-width="3" />
<line x1="521.4" y1="1505.6" x2="521.4" y2="1511.6" stroke="#000" stroke-width="3" />
<line x1="656.4" y1="1505.6" x2="656.4" y2="1511.6" stroke="#000" stroke-width="3" />
<line x1="139.6" y1="1505.4" x2="149.6" y2="1505.4" stroke="#000" stroke-width="3" />
<line x1="139.6" y1="1388.7" x2="149.6" y2="1388.7" stroke="#000" stroke-width="3" />
<line x1="139.6" y1="1272" x2="149.6" y2="1272" stroke="#000" stroke-width="3" />
<line x1="139.6" y1="1155.3" x2="149.6" y2="1155.3" stroke="#000" stroke-width="3" />
<line x1="143.6" y1="1447.05" x2="149.6" y2="1447.05" stroke="#000" stroke-width="3" />
<line x1="143.6" y1="1330.35" x2="149.6" y2="1330.35" stroke="#000" stroke-width="3" />
<line x1="143.6" y1="1213.65" x2="149.6" y2="1213.65" stroke="#000" stroke-width="3" />
<line x1="658.3" y1="1505.4" x2="666.8" y2="1505.4" stroke="#e31d24" stroke-width="2.8" />
<line x1="658.3" y1="1388.7" x2="666.8" y2="1388.7" stroke="#e31d24" stroke-width="2.8" />
<line x1="658.3" y1="1272" x2="666.8" y2="1272" stroke="#e31d24" stroke-width="2.8" />
<line x1="658.3" y1="1155.3" x2="666.8" y2="1155.3" stroke="#e31d24" stroke-width="2.8" />
<line x1="658.3" y1="1447.05" x2="663.3" y2="1447.05" stroke="#e31d24" stroke-width="2.8" />
<line x1="658.3" y1="1330.35" x2="663.3" y2="1330.35" stroke="#e31d24" stroke-width="2.8" />
<line x1="658.3" y1="1213.65" x2="663.3" y2="1213.65" stroke="#e31d24" stroke-width="2.8" />
<text transform="translate(156.47 1544.97) scale(0.9867 1)" font-size="33.10" fill="#1a1a1a" >780</text>
<text transform="translate(291.55 1544.97) scale(0.9867 1)" font-size="33.10" fill="#1a1a1a" >800</text>
<text transform="translate(426.55 1544.97) scale(0.9867 1)" font-size="33.10" fill="#1a1a1a" >820</text>
<text transform="translate(561.55 1544.97) scale(0.9867 1)" font-size="33.10" fill="#1a1a1a" >840</text>
<text transform="translate(93.88 1510.98) scale(0.9864 1)" font-size="32.39" fill="#1a1a1a" >0.7</text>
<text transform="translate(93.56 1394.28) scale(0.9864 1)" font-size="32.39" fill="#1a1a1a" >0.8</text>
<text transform="translate(93.72 1277.58) scale(0.9864 1)" font-size="32.39" fill="#1a1a1a" >0.9</text>
<text transform="translate(93.4 1160.88) scale(0.9864 1)" font-size="32.39" fill="#1a1a1a" >1.0</text>
<text transform="translate(670.06 1514.72) scale(1.0156 1)" font-size="33.10" fill="#e31d24" >0.7</text>
<text transform="translate(670.06 1398.02) scale(1.0156 1)" font-size="33.10" fill="#e31d24" >0.8</text>
<text transform="translate(670.06 1281.32) scale(1.0156 1)" font-size="33.10" fill="#e31d24" >0.9</text>
<text transform="translate(668.88 1164.62) scale(1.0156 1)" font-size="33.10" fill="#e31d24" >1.0</text>
<text transform="translate(21.75 1101.8) scale(0.9306 1)" font-size="55.80" fill="#1a1a1a" >E</text>
<text transform="translate(266.73 1587.51) scale(0.9926 1)" font-size="35.19" fill="#1a1a1a" >Wavelength (nm)</text>
<text transform="translate(66.07 1457.26) rotate(-90) scale(0.9308 1)" font-size="33.06" fill="#1a1a1a" >Normalized Absorbance</text>
<text transform="translate(721.02 1130.44) rotate(90) scale(0.9658 1)" font-size="31.84" fill="#e31d24" >Normalized Fluorescence</text>
<text transform="translate(263.94 1126.93) scale(1.0266 1)" font-size="27.48" fill="#1a1a1a" >RI increase</text>
<line x1="262.5" y1="1137.6" x2="399.2" y2="1137.6" stroke="#e31d24" stroke-width="4.8" />
<path d="M411.2 1137.6 L398.2 1131.1 L398.2 1144.1 Z" fill="#e31d24"/>
<text transform="translate(251.5 1400.32) scale(1.0280 1)" font-size="28.44" fill="#1a1a1a" >Abs</text>
<text transform="translate(472.58 1400.7) scale(1.0146 1)" font-size="31.01" fill="#1a1a1a" >FI</text>
<line x1="252.7" y1="1422.6" x2="300.3" y2="1422.6" stroke="#111" stroke-width="3" stroke-dasharray="7.7 5.4"/>
<line x1="252.7" y1="1452.9" x2="300.3" y2="1452.9" stroke="#7cc242" stroke-width="3" stroke-dasharray="7.7 5.4"/>
<line x1="252.7" y1="1483.8" x2="300.3" y2="1483.8" stroke="#2255b8" stroke-width="3" stroke-dasharray="7.7 5.4"/>
<text transform="translate(321.35 1427.9) scale(1.0593 1)" font-size="22.54" fill="#1a1a1a">a) 1.333</text>
<text transform="translate(320.75 1458.2) scale(1.0593 1)" font-size="22.54" fill="#1a1a1a">b) 1.337</text>
<text transform="translate(321.35 1489.8) scale(1.0593 1)" font-size="22.54" fill="#1a1a1a">c) 1.344</text>
<line x1="457.4" y1="1422.4" x2="501.6" y2="1422.4" stroke="#e31d24" stroke-width="3.9" />
<text transform="translate(519.6 1425.61) scale(1.1651 1)" font-size="21.01" fill="#1a1a1a" >QDs</text>
<rect x="946.95" y="1133.85" width="7.5" height="7.5" fill="#222"/>
<rect x="1044.95" y="1285.45" width="6.5" height="6.5" fill="#222"/>
<rect x="1098.55" y="1329.45" width="6.5" height="6.5" fill="#222"/>
<rect x="1151.05" y="1361.95" width="6.5" height="6.5" fill="#222"/>
<rect x="1203.55" y="1387.95" width="6.5" height="6.5" fill="#222"/>
<rect x="1253.65" y="1409.45" width="6.5" height="6.5" fill="#222"/>
<rect x="1303.65" y="1428.55" width="6.5" height="6.5" fill="#222"/>
<rect x="1354.25" y="1444.05" width="7.5" height="7.5" fill="#222"/>
<path d="M950.7 1137.61 L952.7 1143.07 L954.7 1148.32 L956.7 1153.39 L958.7 1158.28 L960.7 1163 L962.7 1167.58 L964.7 1172.01 L966.7 1176.3 L968.7 1180.47 L970.7 1184.52 L972.7 1188.45 L974.7 1192.28 L976.7 1196.01 L978.7 1199.64 L980.7 1203.18 L982.7 1206.63 L984.7 1210 L986.7 1213.29 L988.7 1216.51 L990.7 1219.65 L992.7 1222.73 L994.7 1225.74 L996.7 1228.69 L998.7 1231.58 L1000.7 1234.41 L1002.7 1237.18 L1004.7 1239.9 L1006.7 1242.57 L1008.7 1245.19 L1010.7 1247.76 L1012.7 1250.29 L1014.7 1252.77 L1016.7 1255.21 L1018.7 1257.6 L1020.7 1259.96 L1022.7 1262.28 L1024.7 1264.56 L1026.7 1266.8 L1028.7 1269.01 L1030.7 1271.19 L1032.7 1273.33 L1034.7 1275.44 L1036.7 1277.52 L1038.7 1279.56 L1040.7 1281.58 L1042.7 1283.57 L1044.7 1285.54 L1046.7 1287.47 L1048.7 1289.38 L1050.7 1291.27 L1052.7 1293.13 L1054.7 1294.96 L1056.7 1296.77 L1058.7 1298.56 L1060.7 1300.33 L1062.7 1302.07 L1064.7 1303.8 L1066.7 1305.5 L1068.7 1307.18 L1070.7 1308.84 L1072.7 1310.49 L1074.7 1312.11 L1076.7 1313.72 L1078.7 1315.3 L1080.7 1316.87 L1082.7 1318.42 L1084.7 1319.96 L1086.7 1321.48 L1088.7 1322.98 L1090.7 1324.47 L1092.7 1325.94 L1094.7 1327.4 L1096.7 1328.84 L1098.7 1330.26 L1100.7 1331.68 L1102.7 1333.08 L1104.7 1334.46 L1106.7 1335.83 L1108.7 1337.19 L1110.7 1338.54 L1112.7 1339.87 L1114.7 1341.19 L1116.7 1342.5 L1118.7 1343.79 L1120.7 1345.07 L1122.7 1346.35 L1124.7 1347.61 L1126.7 1348.86 L1128.7 1350.1 L1130.7 1351.32 L1132.7 1352.54 L1134.7 1353.75 L1136.7 1354.95 L1138.7 1356.13 L1140.7 1357.31 L1142.7 1358.48 L1144.7 1359.63 L1146.7 1360.78 L1148.7 1361.92 L1150.7 1363.05 L1152.7 1364.17 L1154.7 1365.28 L1156.7 1366.39 L1158.7 1367.48 L1160.7 1368.57 L1162.7 1369.64 L1164.7 1370.71 L1166.7 1371.77 L1168.7 1372.83 L1170.7 1373.87 L1172.7 1374.91 L1174.7 1375.94 L1176.7 1376.97 L1178.7 1377.98 L1180.7 1378.99 L1182.7 1379.99 L1184.7 1380.99 L1186.7 1381.97 L1188.7 1382.95 L1190.7 1383.93 L1192.7 1384.89 L1194.7 1385.85 L1196.7 1386.81 L1198.7 1387.76 L1200.7 1388.7 L1202.7 1389.63 L1204.7 1390.56 L1206.7 1391.48 L1208.7 1392.4 L1210.7 1393.31 L1212.7 1394.22 L1214.7 1395.11 L1216.7 1396.01 L1218.7 1396.9 L1220.7 1397.78 L1222.7 1398.65 L1224.7 1399.53 L1226.7 1400.39 L1228.7 1401.25 L1230.7 1402.11 L1232.7 1402.96 L1234.7 1403.8 L1236.7 1404.64 L1238.7 1405.48 L1240.7 1406.31 L1242.7 1407.14 L1244.7 1407.96 L1246.7 1408.77 L1248.7 1409.58 L1250.7 1410.39 L1252.7 1411.19 L1254.7 1411.99 L1256.7 1412.78 L1258.7 1413.57 L1260.7 1414.35 L1262.7 1415.13 L1264.7 1415.91 L1266.7 1416.68 L1268.7 1417.45 L1270.7 1418.21 L1272.7 1418.97 L1274.7 1419.72 L1276.7 1420.48 L1278.7 1421.22 L1280.7 1421.97 L1282.7 1422.7 L1284.7 1423.44 L1286.7 1424.17 L1288.7 1424.9 L1290.7 1425.62 L1292.7 1426.34 L1294.7 1427.06 L1296.7 1427.77 L1298.7 1428.48 L1300.7 1429.19 L1302.7 1429.89 L1304.7 1430.59 L1306.7 1431.28 L1308.7 1431.97 L1310.7 1432.66 L1312.7 1433.35 L1314.7 1434.03 L1316.7 1434.71 L1318.7 1435.38 L1320.7 1436.05 L1322.7 1436.72 L1324.7 1437.39 L1326.7 1438.05 L1328.7 1438.71 L1330.7 1439.37 L1332.7 1440.02 L1334.7 1440.67 L1336.7 1441.32 L1338.7 1441.96 L1340.7 1442.6 L1342.7 1443.24 L1344.7 1443.88 L1346.7 1444.51 L1348.7 1445.14 L1350.7 1445.77 L1352.7 1446.39 L1354.7 1447.02 L1356.7 1447.63 L1358 1448.03" fill="none" stroke="#e31d24" stroke-width="5.8" stroke-linejoin="round" stroke-linecap="round" stroke-linecap="butt"/>
<rect x="900.4" y="1092.6" width="503.7" height="403.7" fill="none" stroke="#000" stroke-width="3"/>
<line x1="900.4" y1="1496.3" x2="900.4" y2="1505.8" stroke="#000" stroke-width="3" />
<line x1="1016.3" y1="1496.3" x2="1016.3" y2="1505.8" stroke="#000" stroke-width="3" />
<line x1="1132.2" y1="1496.3" x2="1132.2" y2="1505.8" stroke="#000" stroke-width="3" />
<line x1="1248.1" y1="1496.3" x2="1248.1" y2="1505.8" stroke="#000" stroke-width="3" />
<line x1="1364" y1="1496.3" x2="1364" y2="1505.8" stroke="#000" stroke-width="3" />
<line x1="958.35" y1="1496.3" x2="958.35" y2="1501.8" stroke="#000" stroke-width="3" />
<line x1="1074.25" y1="1496.3" x2="1074.25" y2="1501.8" stroke="#000" stroke-width="3" />
<line x1="1190.15" y1="1496.3" x2="1190.15" y2="1501.8" stroke="#000" stroke-width="3" />
<line x1="1306.05" y1="1496.3" x2="1306.05" y2="1501.8" stroke="#000" stroke-width="3" />
<line x1="891.4" y1="1424.5" x2="900.4" y2="1424.5" stroke="#000" stroke-width="3" />
<line x1="891.4" y1="1329.7" x2="900.4" y2="1329.7" stroke="#000" stroke-width="3" />
<line x1="891.4" y1="1234.9" x2="900.4" y2="1234.9" stroke="#000" stroke-width="3" />
<line x1="891.4" y1="1140.1" x2="900.4" y2="1140.1" stroke="#000" stroke-width="3" />
<line x1="894.9" y1="1471.9" x2="900.4" y2="1471.9" stroke="#000" stroke-width="3" />
<line x1="894.9" y1="1377.1" x2="900.4" y2="1377.1" stroke="#000" stroke-width="3" />
<line x1="894.9" y1="1282.3" x2="900.4" y2="1282.3" stroke="#000" stroke-width="3" />
<line x1="894.9" y1="1187.5" x2="900.4" y2="1187.5" stroke="#000" stroke-width="3" />
<text transform="translate(860.21 1537.97) scale(0.9784 1)" font-size="32.54" fill="#1a1a1a" >1.332</text>
<text transform="translate(975.95 1537.97) scale(0.9784 1)" font-size="32.54" fill="#1a1a1a" >1.335</text>
<text transform="translate(1091.85 1537.97) scale(0.9784 1)" font-size="32.54" fill="#1a1a1a" >1.338</text>
<text transform="translate(1207.83 1537.97) scale(0.9784 1)" font-size="32.54" fill="#1a1a1a" >1.341</text>
<text transform="translate(1323.49 1537.97) scale(0.9784 1)" font-size="32.54" fill="#1a1a1a" >1.344</text>
<text transform="translate(805.16 1433.72) scale(0.9619 1)" font-size="32.82" fill="#1a1a1a" >0.992</text>
<text transform="translate(804.85 1338.92) scale(0.9619 1)" font-size="32.82" fill="#1a1a1a" >0.996</text>
<text transform="translate(804.69 1244.12) scale(0.9619 1)" font-size="32.82" fill="#1a1a1a" >1.000</text>
<text transform="translate(804.53 1149.32) scale(0.9619 1)" font-size="32.82" fill="#1a1a1a" >1.004</text>
<text transform="translate(754.51 1094.6) scale(0.9566 1)" font-size="57.39" fill="#1a1a1a" >F</text>
<text transform="translate(1134.74 1584.9) scale(0.9203 1)" font-size="36.09" fill="#1a1a1a" >RI</text>
<text transform="translate(796.07 1324.44) rotate(-90) scale(0.9900 1)" font-size="33.33" fill="#1a1a1a" >F’/F’</text>
<text transform="translate(808.68 1270.08) rotate(-90) scale(1.0151 1)" font-size="21.55" fill="#1a1a1a" >0</text>
</g>
</svg>
</body></html>
